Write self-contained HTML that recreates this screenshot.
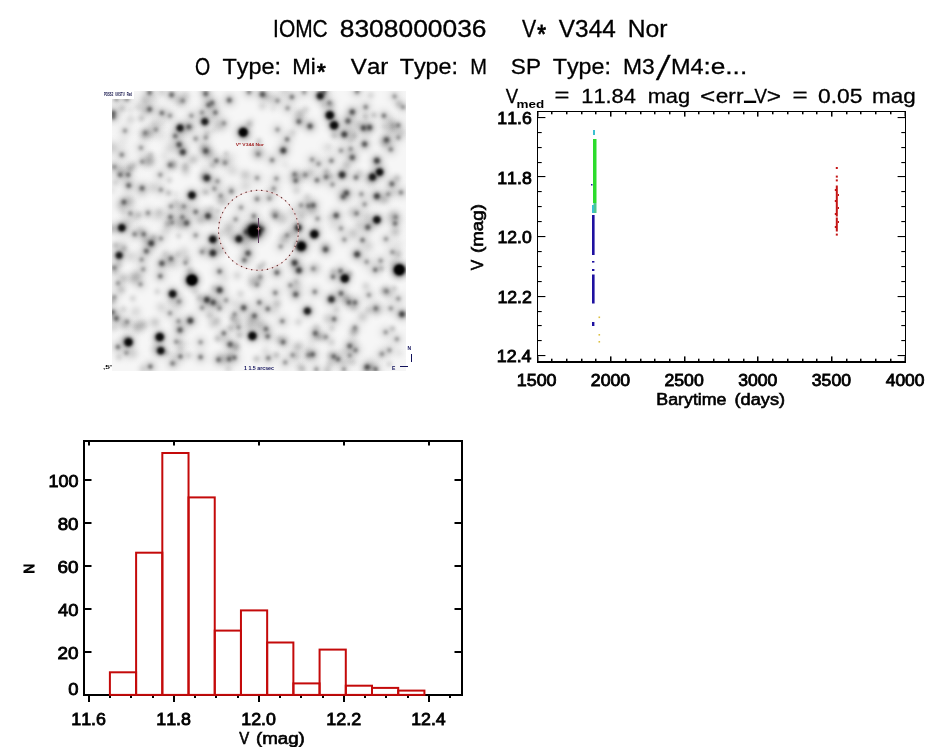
<!DOCTYPE html>
<html><head><meta charset="utf-8"><title>IOMC 8308000036</title>
<style>html,body{margin:0;padding:0;background:#fff;}body{width:944px;height:747px;overflow:hidden;}svg{display:block;}</style>
</head><body>
<svg width="944" height="747" viewBox="0 0 944 747" font-family="'Liberation Sans', Arial, sans-serif" style="font-kerning:none">
<defs><radialGradient id="g30_150_23"><stop offset="0.000" stop-opacity="0.422"/><stop offset="0.062" stop-opacity="0.398"/><stop offset="0.125" stop-opacity="0.333"/><stop offset="0.188" stop-opacity="0.252"/><stop offset="0.250" stop-opacity="0.179"/><stop offset="0.312" stop-opacity="0.125"/><stop offset="0.375" stop-opacity="0.090"/><stop offset="0.438" stop-opacity="0.066"/><stop offset="0.500" stop-opacity="0.049"/><stop offset="0.562" stop-opacity="0.036"/><stop offset="0.625" stop-opacity="0.026"/><stop offset="0.688" stop-opacity="0.018"/><stop offset="0.750" stop-opacity="0.012"/><stop offset="0.812" stop-opacity="0.008"/><stop offset="0.875" stop-opacity="0.005"/><stop offset="0.938" stop-opacity="0.003"/><stop offset="1.000" stop-opacity="0.000"/></radialGradient><radialGradient id="g35_175_22"><stop offset="0.000" stop-opacity="0.482"/><stop offset="0.062" stop-opacity="0.457"/><stop offset="0.125" stop-opacity="0.390"/><stop offset="0.188" stop-opacity="0.302"/><stop offset="0.250" stop-opacity="0.218"/><stop offset="0.312" stop-opacity="0.153"/><stop offset="0.375" stop-opacity="0.109"/><stop offset="0.438" stop-opacity="0.079"/><stop offset="0.500" stop-opacity="0.058"/><stop offset="0.562" stop-opacity="0.042"/><stop offset="0.625" stop-opacity="0.030"/><stop offset="0.688" stop-opacity="0.021"/><stop offset="0.750" stop-opacity="0.014"/><stop offset="0.812" stop-opacity="0.009"/><stop offset="0.875" stop-opacity="0.006"/><stop offset="0.938" stop-opacity="0.003"/><stop offset="1.000" stop-opacity="0.000"/></radialGradient><radialGradient id="g20_100_23"><stop offset="0.000" stop-opacity="0.291"/><stop offset="0.062" stop-opacity="0.273"/><stop offset="0.125" stop-opacity="0.227"/><stop offset="0.188" stop-opacity="0.170"/><stop offset="0.250" stop-opacity="0.120"/><stop offset="0.312" stop-opacity="0.084"/><stop offset="0.375" stop-opacity="0.060"/><stop offset="0.438" stop-opacity="0.044"/><stop offset="0.500" stop-opacity="0.033"/><stop offset="0.562" stop-opacity="0.024"/><stop offset="0.625" stop-opacity="0.017"/><stop offset="0.688" stop-opacity="0.012"/><stop offset="0.750" stop-opacity="0.008"/><stop offset="0.812" stop-opacity="0.005"/><stop offset="0.875" stop-opacity="0.003"/><stop offset="0.938" stop-opacity="0.002"/><stop offset="1.000" stop-opacity="0.000"/></radialGradient><radialGradient id="g30_125_23"><stop offset="0.000" stop-opacity="0.401"/><stop offset="0.062" stop-opacity="0.377"/><stop offset="0.125" stop-opacity="0.313"/><stop offset="0.188" stop-opacity="0.232"/><stop offset="0.250" stop-opacity="0.161"/><stop offset="0.312" stop-opacity="0.109"/><stop offset="0.375" stop-opacity="0.077"/><stop offset="0.438" stop-opacity="0.056"/><stop offset="0.500" stop-opacity="0.041"/><stop offset="0.562" stop-opacity="0.030"/><stop offset="0.625" stop-opacity="0.022"/><stop offset="0.688" stop-opacity="0.015"/><stop offset="0.750" stop-opacity="0.010"/><stop offset="0.812" stop-opacity="0.006"/><stop offset="0.875" stop-opacity="0.004"/><stop offset="0.938" stop-opacity="0.002"/><stop offset="1.000" stop-opacity="0.000"/></radialGradient><radialGradient id="g110_250_19"><stop offset="0.000" stop-opacity="0.874"/><stop offset="0.062" stop-opacity="0.856"/><stop offset="0.125" stop-opacity="0.796"/><stop offset="0.188" stop-opacity="0.683"/><stop offset="0.250" stop-opacity="0.528"/><stop offset="0.312" stop-opacity="0.368"/><stop offset="0.375" stop-opacity="0.240"/><stop offset="0.438" stop-opacity="0.154"/><stop offset="0.500" stop-opacity="0.100"/><stop offset="0.562" stop-opacity="0.067"/><stop offset="0.625" stop-opacity="0.045"/><stop offset="0.688" stop-opacity="0.030"/><stop offset="0.750" stop-opacity="0.020"/><stop offset="0.812" stop-opacity="0.013"/><stop offset="0.875" stop-opacity="0.008"/><stop offset="0.938" stop-opacity="0.005"/><stop offset="1.000" stop-opacity="0.000"/></radialGradient><radialGradient id="g45_200_21"><stop offset="0.000" stop-opacity="0.572"/><stop offset="0.062" stop-opacity="0.546"/><stop offset="0.125" stop-opacity="0.475"/><stop offset="0.188" stop-opacity="0.375"/><stop offset="0.250" stop-opacity="0.274"/><stop offset="0.312" stop-opacity="0.191"/><stop offset="0.375" stop-opacity="0.133"/><stop offset="0.438" stop-opacity="0.094"/><stop offset="0.500" stop-opacity="0.068"/><stop offset="0.562" stop-opacity="0.049"/><stop offset="0.625" stop-opacity="0.035"/><stop offset="0.688" stop-opacity="0.024"/><stop offset="0.750" stop-opacity="0.016"/><stop offset="0.812" stop-opacity="0.010"/><stop offset="0.875" stop-opacity="0.006"/><stop offset="0.938" stop-opacity="0.004"/><stop offset="1.000" stop-opacity="0.000"/></radialGradient><radialGradient id="g60_225_20"><stop offset="0.000" stop-opacity="0.678"/><stop offset="0.062" stop-opacity="0.653"/><stop offset="0.125" stop-opacity="0.580"/><stop offset="0.188" stop-opacity="0.471"/><stop offset="0.250" stop-opacity="0.349"/><stop offset="0.312" stop-opacity="0.243"/><stop offset="0.375" stop-opacity="0.166"/><stop offset="0.438" stop-opacity="0.114"/><stop offset="0.500" stop-opacity="0.080"/><stop offset="0.562" stop-opacity="0.056"/><stop offset="0.625" stop-opacity="0.039"/><stop offset="0.688" stop-opacity="0.027"/><stop offset="0.750" stop-opacity="0.018"/><stop offset="0.812" stop-opacity="0.012"/><stop offset="0.875" stop-opacity="0.007"/><stop offset="0.938" stop-opacity="0.004"/><stop offset="1.000" stop-opacity="0.000"/></radialGradient><radialGradient id="g40_200_21"><stop offset="0.000" stop-opacity="0.537"/><stop offset="0.062" stop-opacity="0.513"/><stop offset="0.125" stop-opacity="0.446"/><stop offset="0.188" stop-opacity="0.354"/><stop offset="0.250" stop-opacity="0.261"/><stop offset="0.312" stop-opacity="0.184"/><stop offset="0.375" stop-opacity="0.130"/><stop offset="0.438" stop-opacity="0.093"/><stop offset="0.500" stop-opacity="0.068"/><stop offset="0.562" stop-opacity="0.049"/><stop offset="0.625" stop-opacity="0.035"/><stop offset="0.688" stop-opacity="0.024"/><stop offset="0.750" stop-opacity="0.016"/><stop offset="0.812" stop-opacity="0.010"/><stop offset="0.875" stop-opacity="0.006"/><stop offset="0.938" stop-opacity="0.004"/><stop offset="1.000" stop-opacity="0.000"/></radialGradient><radialGradient id="g25_125_23"><stop offset="0.000" stop-opacity="0.358"/><stop offset="0.062" stop-opacity="0.337"/><stop offset="0.125" stop-opacity="0.281"/><stop offset="0.188" stop-opacity="0.212"/><stop offset="0.250" stop-opacity="0.150"/><stop offset="0.312" stop-opacity="0.105"/><stop offset="0.375" stop-opacity="0.075"/><stop offset="0.438" stop-opacity="0.055"/><stop offset="0.500" stop-opacity="0.041"/><stop offset="0.562" stop-opacity="0.030"/><stop offset="0.625" stop-opacity="0.022"/><stop offset="0.688" stop-opacity="0.015"/><stop offset="0.750" stop-opacity="0.010"/><stop offset="0.812" stop-opacity="0.006"/><stop offset="0.875" stop-opacity="0.004"/><stop offset="0.938" stop-opacity="0.002"/><stop offset="1.000" stop-opacity="0.000"/></radialGradient><radialGradient id="g170_275_18"><stop offset="0.000" stop-opacity="0.962"/><stop offset="0.062" stop-opacity="0.954"/><stop offset="0.125" stop-opacity="0.923"/><stop offset="0.188" stop-opacity="0.849"/><stop offset="0.250" stop-opacity="0.712"/><stop offset="0.312" stop-opacity="0.527"/><stop offset="0.375" stop-opacity="0.349"/><stop offset="0.438" stop-opacity="0.217"/><stop offset="0.500" stop-opacity="0.133"/><stop offset="0.562" stop-opacity="0.083"/><stop offset="0.625" stop-opacity="0.053"/><stop offset="0.688" stop-opacity="0.034"/><stop offset="0.750" stop-opacity="0.022"/><stop offset="0.812" stop-opacity="0.014"/><stop offset="0.875" stop-opacity="0.009"/><stop offset="0.938" stop-opacity="0.005"/><stop offset="1.000" stop-opacity="0.000"/></radialGradient><radialGradient id="g80_250_19"><stop offset="0.000" stop-opacity="0.782"/><stop offset="0.062" stop-opacity="0.760"/><stop offset="0.125" stop-opacity="0.693"/><stop offset="0.188" stop-opacity="0.582"/><stop offset="0.250" stop-opacity="0.445"/><stop offset="0.312" stop-opacity="0.314"/><stop offset="0.375" stop-opacity="0.211"/><stop offset="0.438" stop-opacity="0.140"/><stop offset="0.500" stop-opacity="0.095"/><stop offset="0.562" stop-opacity="0.065"/><stop offset="0.625" stop-opacity="0.044"/><stop offset="0.688" stop-opacity="0.030"/><stop offset="0.750" stop-opacity="0.020"/><stop offset="0.812" stop-opacity="0.013"/><stop offset="0.875" stop-opacity="0.008"/><stop offset="0.938" stop-opacity="0.005"/><stop offset="1.000" stop-opacity="0.000"/></radialGradient><radialGradient id="g135_275_19"><stop offset="0.000" stop-opacity="0.925"/><stop offset="0.062" stop-opacity="0.912"/><stop offset="0.125" stop-opacity="0.863"/><stop offset="0.188" stop-opacity="0.760"/><stop offset="0.250" stop-opacity="0.602"/><stop offset="0.312" stop-opacity="0.425"/><stop offset="0.375" stop-opacity="0.276"/><stop offset="0.438" stop-opacity="0.175"/><stop offset="0.500" stop-opacity="0.112"/><stop offset="0.562" stop-opacity="0.074"/><stop offset="0.625" stop-opacity="0.050"/><stop offset="0.688" stop-opacity="0.033"/><stop offset="0.750" stop-opacity="0.022"/><stop offset="0.812" stop-opacity="0.014"/><stop offset="0.875" stop-opacity="0.009"/><stop offset="0.938" stop-opacity="0.005"/><stop offset="1.000" stop-opacity="0.000"/></radialGradient><radialGradient id="g200_300_18"><stop offset="0.000" stop-opacity="0.980"/><stop offset="0.062" stop-opacity="0.975"/><stop offset="0.125" stop-opacity="0.954"/><stop offset="0.188" stop-opacity="0.896"/><stop offset="0.250" stop-opacity="0.774"/><stop offset="0.312" stop-opacity="0.588"/><stop offset="0.375" stop-opacity="0.394"/><stop offset="0.438" stop-opacity="0.244"/><stop offset="0.500" stop-opacity="0.149"/><stop offset="0.562" stop-opacity="0.092"/><stop offset="0.625" stop-opacity="0.058"/><stop offset="0.688" stop-opacity="0.038"/><stop offset="0.750" stop-opacity="0.024"/><stop offset="0.812" stop-opacity="0.016"/><stop offset="0.875" stop-opacity="0.010"/><stop offset="0.938" stop-opacity="0.006"/><stop offset="1.000" stop-opacity="0.000"/></radialGradient><radialGradient id="g250_350_20"><stop offset="0.000" stop-opacity="0.993"/><stop offset="0.062" stop-opacity="0.991"/><stop offset="0.125" stop-opacity="0.976"/><stop offset="0.188" stop-opacity="0.926"/><stop offset="0.250" stop-opacity="0.792"/><stop offset="0.312" stop-opacity="0.576"/><stop offset="0.375" stop-opacity="0.367"/><stop offset="0.438" stop-opacity="0.224"/><stop offset="0.500" stop-opacity="0.140"/><stop offset="0.562" stop-opacity="0.092"/><stop offset="0.625" stop-opacity="0.062"/><stop offset="0.688" stop-opacity="0.042"/><stop offset="0.750" stop-opacity="0.028"/><stop offset="0.812" stop-opacity="0.018"/><stop offset="0.875" stop-opacity="0.011"/><stop offset="0.938" stop-opacity="0.007"/><stop offset="1.000" stop-opacity="0.000"/></radialGradient><radialGradient id="g280_450_18"><stop offset="0.000" stop-opacity="0.997"/><stop offset="0.062" stop-opacity="0.996"/><stop offset="0.125" stop-opacity="0.990"/><stop offset="0.188" stop-opacity="0.968"/><stop offset="0.250" stop-opacity="0.899"/><stop offset="0.312" stop-opacity="0.746"/><stop offset="0.375" stop-opacity="0.537"/><stop offset="0.438" stop-opacity="0.347"/><stop offset="0.500" stop-opacity="0.216"/><stop offset="0.562" stop-opacity="0.135"/><stop offset="0.625" stop-opacity="0.087"/><stop offset="0.688" stop-opacity="0.056"/><stop offset="0.750" stop-opacity="0.037"/><stop offset="0.812" stop-opacity="0.023"/><stop offset="0.875" stop-opacity="0.014"/><stop offset="0.938" stop-opacity="0.009"/><stop offset="1.000" stop-opacity="0.000"/></radialGradient><radialGradient id="g250_350_18"><stop offset="0.000" stop-opacity="0.993"/><stop offset="0.062" stop-opacity="0.991"/><stop offset="0.125" stop-opacity="0.981"/><stop offset="0.188" stop-opacity="0.946"/><stop offset="0.250" stop-opacity="0.854"/><stop offset="0.312" stop-opacity="0.679"/><stop offset="0.375" stop-opacity="0.468"/><stop offset="0.438" stop-opacity="0.293"/><stop offset="0.500" stop-opacity="0.177"/><stop offset="0.562" stop-opacity="0.109"/><stop offset="0.625" stop-opacity="0.069"/><stop offset="0.688" stop-opacity="0.044"/><stop offset="0.750" stop-opacity="0.029"/><stop offset="0.812" stop-opacity="0.018"/><stop offset="0.875" stop-opacity="0.011"/><stop offset="0.938" stop-opacity="0.007"/><stop offset="1.000" stop-opacity="0.000"/></radialGradient><radialGradient id="g220_400_19"><stop offset="0.000" stop-opacity="0.989"/><stop offset="0.062" stop-opacity="0.985"/><stop offset="0.125" stop-opacity="0.969"/><stop offset="0.188" stop-opacity="0.919"/><stop offset="0.250" stop-opacity="0.800"/><stop offset="0.312" stop-opacity="0.609"/><stop offset="0.375" stop-opacity="0.411"/><stop offset="0.438" stop-opacity="0.261"/><stop offset="0.500" stop-opacity="0.166"/><stop offset="0.562" stop-opacity="0.109"/><stop offset="0.625" stop-opacity="0.073"/><stop offset="0.688" stop-opacity="0.049"/><stop offset="0.750" stop-opacity="0.032"/><stop offset="0.812" stop-opacity="0.021"/><stop offset="0.875" stop-opacity="0.013"/><stop offset="0.938" stop-opacity="0.008"/><stop offset="1.000" stop-opacity="0.000"/></radialGradient><radialGradient id="g10_0_10"><stop offset="0.000" stop-opacity="0.100"/><stop offset="0.062" stop-opacity="0.098"/><stop offset="0.125" stop-opacity="0.093"/><stop offset="0.188" stop-opacity="0.085"/><stop offset="0.250" stop-opacity="0.075"/><stop offset="0.312" stop-opacity="0.064"/><stop offset="0.375" stop-opacity="0.053"/><stop offset="0.438" stop-opacity="0.042"/><stop offset="0.500" stop-opacity="0.032"/><stop offset="0.562" stop-opacity="0.024"/><stop offset="0.625" stop-opacity="0.017"/><stop offset="0.688" stop-opacity="0.012"/><stop offset="0.750" stop-opacity="0.008"/><stop offset="0.812" stop-opacity="0.005"/><stop offset="0.875" stop-opacity="0.003"/><stop offset="0.938" stop-opacity="0.002"/><stop offset="1.000" stop-opacity="0.000"/></radialGradient><radialGradient id="g5_0_10"><stop offset="0.000" stop-opacity="0.050"/><stop offset="0.062" stop-opacity="0.049"/><stop offset="0.125" stop-opacity="0.047"/><stop offset="0.188" stop-opacity="0.043"/><stop offset="0.250" stop-opacity="0.038"/><stop offset="0.312" stop-opacity="0.032"/><stop offset="0.375" stop-opacity="0.027"/><stop offset="0.438" stop-opacity="0.021"/><stop offset="0.500" stop-opacity="0.016"/><stop offset="0.562" stop-opacity="0.012"/><stop offset="0.625" stop-opacity="0.009"/><stop offset="0.688" stop-opacity="0.006"/><stop offset="0.750" stop-opacity="0.004"/><stop offset="0.812" stop-opacity="0.003"/><stop offset="0.875" stop-opacity="0.002"/><stop offset="0.938" stop-opacity="0.001"/><stop offset="1.000" stop-opacity="0.000"/></radialGradient><radialGradient id="g15_0_10"><stop offset="0.000" stop-opacity="0.149"/><stop offset="0.062" stop-opacity="0.146"/><stop offset="0.125" stop-opacity="0.139"/><stop offset="0.188" stop-opacity="0.127"/><stop offset="0.250" stop-opacity="0.113"/><stop offset="0.312" stop-opacity="0.096"/><stop offset="0.375" stop-opacity="0.079"/><stop offset="0.438" stop-opacity="0.063"/><stop offset="0.500" stop-opacity="0.049"/><stop offset="0.562" stop-opacity="0.036"/><stop offset="0.625" stop-opacity="0.026"/><stop offset="0.688" stop-opacity="0.018"/><stop offset="0.750" stop-opacity="0.012"/><stop offset="0.812" stop-opacity="0.008"/><stop offset="0.875" stop-opacity="0.005"/><stop offset="0.938" stop-opacity="0.003"/><stop offset="1.000" stop-opacity="0.000"/></radialGradient><clipPath id="imgclip"><rect x="112" y="91" width="294" height="280"/></clipPath></defs>
<rect width="944" height="747" fill="#fff"/>
<g clip-path="url(#imgclip)"><rect x="112" y="91" width="294" height="280" fill="#f6f6f6"/>
<circle cx="207.2" cy="133.2" r="7.9" fill="url(#g10_0_10)"/>
<circle cx="269.5" cy="193.4" r="10.5" fill="url(#g5_0_10)"/>
<circle cx="123.0" cy="212.4" r="8.0" fill="url(#g5_0_10)"/>
<circle cx="236.8" cy="322.5" r="8.8" fill="url(#g5_0_10)"/>
<circle cx="296.5" cy="356.4" r="9.9" fill="url(#g10_0_10)"/>
<circle cx="399.0" cy="104.0" r="9.2" fill="url(#g15_0_10)"/>
<circle cx="154.4" cy="124.0" r="12.4" fill="url(#g10_0_10)"/>
<circle cx="165.1" cy="253.8" r="9.7" fill="url(#g10_0_10)"/>
<circle cx="273.0" cy="108.6" r="8.7" fill="url(#g5_0_10)"/>
<circle cx="312.0" cy="210.7" r="11.0" fill="url(#g10_0_10)"/>
<circle cx="245.2" cy="174.9" r="11.7" fill="url(#g15_0_10)"/>
<circle cx="183.8" cy="251.8" r="12.8" fill="url(#g10_0_10)"/>
<circle cx="326.5" cy="171.6" r="8.2" fill="url(#g15_0_10)"/>
<circle cx="234.9" cy="303.0" r="10.4" fill="url(#g5_0_10)"/>
<circle cx="123.5" cy="278.1" r="10.9" fill="url(#g15_0_10)"/>
<circle cx="369.4" cy="178.8" r="11.1" fill="url(#g10_0_10)"/>
<circle cx="282.5" cy="218.7" r="13.2" fill="url(#g15_0_10)"/>
<circle cx="251.4" cy="277.0" r="11.7" fill="url(#g5_0_10)"/>
<circle cx="302.3" cy="369.1" r="9.2" fill="url(#g15_0_10)"/>
<circle cx="225.4" cy="278.2" r="10.3" fill="url(#g5_0_10)"/>
<circle cx="161.4" cy="123.8" r="12.1" fill="url(#g5_0_10)"/>
<circle cx="150.0" cy="160.3" r="12.7" fill="url(#g10_0_10)"/>
<circle cx="135.7" cy="216.8" r="12.8" fill="url(#g10_0_10)"/>
<circle cx="352.9" cy="332.9" r="10.0" fill="url(#g10_0_10)"/>
<circle cx="217.5" cy="338.6" r="8.4" fill="url(#g15_0_10)"/>
<circle cx="163.8" cy="155.9" r="10.4" fill="url(#g5_0_10)"/>
<circle cx="285.2" cy="164.6" r="10.0" fill="url(#g5_0_10)"/>
<circle cx="220.6" cy="249.6" r="11.6" fill="url(#g15_0_10)"/>
<circle cx="263.6" cy="263.9" r="7.8" fill="url(#g10_0_10)"/>
<circle cx="376.5" cy="309.4" r="12.3" fill="url(#g15_0_10)"/>
<circle cx="227.4" cy="202.7" r="11.3" fill="url(#g5_0_10)"/>
<circle cx="130.3" cy="109.9" r="8.5" fill="url(#g5_0_10)"/>
<circle cx="212.0" cy="105.7" r="8.4" fill="url(#g5_0_10)"/>
<circle cx="141.8" cy="192.8" r="12.7" fill="url(#g5_0_10)"/>
<circle cx="292.5" cy="132.6" r="9.6" fill="url(#g10_0_10)"/>
<circle cx="219.1" cy="125.4" r="13.5" fill="url(#g15_0_10)"/>
<circle cx="249.0" cy="226.5" r="8.1" fill="url(#g5_0_10)"/>
<circle cx="212.7" cy="165.1" r="8.5" fill="url(#g15_0_10)"/>
<circle cx="118.8" cy="357.3" r="8.4" fill="url(#g10_0_10)"/>
<circle cx="271.7" cy="98.6" r="13.4" fill="url(#g10_0_10)"/>
<circle cx="365.8" cy="285.9" r="9.7" fill="url(#g10_0_10)"/>
<circle cx="161.1" cy="307.1" r="12.2" fill="url(#g10_0_10)"/>
<circle cx="208.9" cy="153.5" r="13.4" fill="url(#g15_0_10)"/>
<circle cx="362.7" cy="316.7" r="11.9" fill="url(#g15_0_10)"/>
<circle cx="178.7" cy="235.9" r="7.7" fill="url(#g10_0_10)"/>
<circle cx="120.2" cy="169.2" r="11.7" fill="url(#g10_0_10)"/>
<circle cx="393.2" cy="216.2" r="13.4" fill="url(#g15_0_10)"/>
<circle cx="392.8" cy="193.1" r="8.9" fill="url(#g5_0_10)"/>
<circle cx="169.8" cy="148.2" r="12.9" fill="url(#g10_0_10)"/>
<circle cx="359.1" cy="225.3" r="12.3" fill="url(#g10_0_10)"/>
<circle cx="136.9" cy="276.0" r="12.2" fill="url(#g15_0_10)"/>
<circle cx="332.5" cy="224.8" r="12.2" fill="url(#g5_0_10)"/>
<circle cx="209.8" cy="315.2" r="9.9" fill="url(#g15_0_10)"/>
<circle cx="230.0" cy="356.1" r="8.5" fill="url(#g10_0_10)"/>
<circle cx="149.3" cy="133.3" r="12.3" fill="url(#g15_0_10)"/>
<circle cx="155.0" cy="322.4" r="11.4" fill="url(#g15_0_10)"/>
<circle cx="215.0" cy="244.6" r="7.6" fill="url(#g5_0_10)"/>
<circle cx="397.4" cy="272.9" r="13.1" fill="url(#g10_0_10)"/>
<circle cx="239.5" cy="335.1" r="8.8" fill="url(#g15_0_10)"/>
<circle cx="186.0" cy="173.0" r="11.0" fill="url(#g5_0_10)"/>
<circle cx="188.3" cy="208.3" r="13.0" fill="url(#g5_0_10)"/>
<circle cx="216.0" cy="219.3" r="12.9" fill="url(#g10_0_10)"/>
<circle cx="235.7" cy="348.0" r="10.7" fill="url(#g10_0_10)"/>
<circle cx="265.9" cy="96.2" r="8.6" fill="url(#g10_0_10)"/>
<circle cx="113.2" cy="314.8" r="10.3" fill="url(#g5_0_10)"/>
<circle cx="325.2" cy="246.8" r="10.6" fill="url(#g10_0_10)"/>
<circle cx="275.3" cy="310.6" r="10.9" fill="url(#g5_0_10)"/>
<circle cx="185.1" cy="168.5" r="10.5" fill="url(#g15_0_10)"/>
<circle cx="277.1" cy="303.8" r="10.2" fill="url(#g15_0_10)"/>
<circle cx="292.1" cy="232.6" r="11.7" fill="url(#g10_0_10)"/>
<circle cx="245.0" cy="240.3" r="13.1" fill="url(#g10_0_10)"/>
<circle cx="317.6" cy="336.4" r="9.1" fill="url(#g15_0_10)"/>
<circle cx="276.5" cy="355.1" r="8.3" fill="url(#g15_0_10)"/>
<circle cx="147.8" cy="214.8" r="8.9" fill="url(#g5_0_10)"/>
<circle cx="133.5" cy="278.5" r="12.9" fill="url(#g15_0_10)"/>
<circle cx="157.4" cy="291.5" r="8.4" fill="url(#g10_0_10)"/>
<circle cx="371.6" cy="361.9" r="13.2" fill="url(#g5_0_10)"/>
<circle cx="229.1" cy="227.4" r="12.5" fill="url(#g15_0_10)"/>
<circle cx="159.5" cy="211.8" r="9.5" fill="url(#g10_0_10)"/>
<circle cx="169.5" cy="180.2" r="7.6" fill="url(#g10_0_10)"/>
<circle cx="274.9" cy="214.3" r="9.5" fill="url(#g5_0_10)"/>
<circle cx="295.4" cy="234.4" r="13.4" fill="url(#g5_0_10)"/>
<circle cx="343.8" cy="363.1" r="9.1" fill="url(#g5_0_10)"/>
<circle cx="123.6" cy="309.1" r="8.3" fill="url(#g10_0_10)"/>
<circle cx="236.1" cy="346.2" r="9.1" fill="url(#g15_0_10)"/>
<circle cx="155.9" cy="348.4" r="11.7" fill="url(#g10_0_10)"/>
<circle cx="138.3" cy="107.1" r="10.1" fill="url(#g10_0_10)"/>
<circle cx="133.3" cy="353.7" r="12.3" fill="url(#g10_0_10)"/>
<circle cx="136.6" cy="330.7" r="12.7" fill="url(#g5_0_10)"/>
<circle cx="245.4" cy="186.0" r="13.1" fill="url(#g10_0_10)"/>
<circle cx="190.8" cy="127.2" r="8.9" fill="url(#g10_0_10)"/>
<circle cx="144.2" cy="136.2" r="8.7" fill="url(#g5_0_10)"/>
<circle cx="203.7" cy="176.4" r="9.2" fill="url(#g15_0_10)"/>
<circle cx="259.0" cy="140.8" r="7.6" fill="url(#g10_0_10)"/>
<circle cx="185.6" cy="95.3" r="10.8" fill="url(#g10_0_10)"/>
<circle cx="167.7" cy="223.9" r="8.1" fill="url(#g15_0_10)"/>
<circle cx="352.8" cy="212.0" r="12.5" fill="url(#g10_0_10)"/>
<circle cx="227.6" cy="232.9" r="13.4" fill="url(#g10_0_10)"/>
<circle cx="212.8" cy="324.0" r="11.3" fill="url(#g10_0_10)"/>
<circle cx="231.0" cy="188.3" r="8.3" fill="url(#g5_0_10)"/>
<circle cx="132.8" cy="298.4" r="8.5" fill="url(#g10_0_10)"/>
<circle cx="136.8" cy="326.6" r="11.5" fill="url(#g15_0_10)"/>
<circle cx="194.9" cy="158.8" r="10.3" fill="url(#g10_0_10)"/>
<circle cx="158.3" cy="215.8" r="13.3" fill="url(#g10_0_10)"/>
<circle cx="398.0" cy="244.2" r="13.3" fill="url(#g5_0_10)"/>
<circle cx="203.0" cy="190.8" r="9.8" fill="url(#g5_0_10)"/>
<circle cx="251.5" cy="231.8" r="10.5" fill="url(#g5_0_10)"/>
<circle cx="113.5" cy="165.0" r="9.9" fill="url(#g5_0_10)"/>
<circle cx="124.3" cy="97.3" r="8.9" fill="url(#g10_0_10)"/>
<circle cx="284.2" cy="239.2" r="11.4" fill="url(#g15_0_10)"/>
<circle cx="322.5" cy="337.1" r="9.5" fill="url(#g10_0_10)"/>
<circle cx="401.5" cy="132.8" r="11.4" fill="url(#g10_0_10)"/>
<circle cx="124.9" cy="324.9" r="11.3" fill="url(#g15_0_10)"/>
<circle cx="327.8" cy="318.4" r="10.6" fill="url(#g5_0_10)"/>
<circle cx="260.3" cy="324.8" r="12.5" fill="url(#g15_0_10)"/>
<circle cx="283.7" cy="341.0" r="11.7" fill="url(#g10_0_10)"/>
<circle cx="179.6" cy="99.7" r="9.7" fill="url(#g5_0_10)"/>
<circle cx="142.8" cy="325.0" r="11.3" fill="url(#g10_0_10)"/>
<circle cx="296.1" cy="281.6" r="7.5" fill="url(#g10_0_10)"/>
<circle cx="346.5" cy="300.5" r="10.7" fill="url(#g10_0_10)"/>
<circle cx="305.8" cy="109.5" r="9.0" fill="url(#g10_0_10)"/>
<circle cx="133.9" cy="165.4" r="8.7" fill="url(#g10_0_10)"/>
<circle cx="329.5" cy="364.2" r="9.8" fill="url(#g10_0_10)"/>
<circle cx="252.8" cy="282.4" r="11.2" fill="url(#g15_0_10)"/>
<circle cx="301.0" cy="112.7" r="9.0" fill="url(#g5_0_10)"/>
<circle cx="330.5" cy="176.2" r="7.6" fill="url(#g10_0_10)"/>
<circle cx="129.8" cy="166.3" r="11.7" fill="url(#g10_0_10)"/>
<circle cx="310.7" cy="172.4" r="10.3" fill="url(#g10_0_10)"/>
<circle cx="249.1" cy="124.2" r="8.7" fill="url(#g15_0_10)"/>
<circle cx="399.6" cy="353.2" r="10.3" fill="url(#g5_0_10)"/>
<circle cx="353.0" cy="362.1" r="9.1" fill="url(#g10_0_10)"/>
<circle cx="173.7" cy="355.8" r="11.0" fill="url(#g5_0_10)"/>
<circle cx="153.7" cy="237.7" r="8.3" fill="url(#g15_0_10)"/>
<circle cx="353.1" cy="233.4" r="11.7" fill="url(#g15_0_10)"/>
<circle cx="180.0" cy="342.4" r="7.6" fill="url(#g10_0_10)"/>
<circle cx="113.1" cy="228.7" r="9.3" fill="url(#g10_0_10)"/>
<circle cx="153.4" cy="187.3" r="12.5" fill="url(#g10_0_10)"/>
<circle cx="112.5" cy="301.2" r="8.2" fill="url(#g15_0_10)"/>
<circle cx="384.4" cy="290.6" r="9.2" fill="url(#g15_0_10)"/>
<circle cx="221.4" cy="201.0" r="11.0" fill="url(#g15_0_10)"/>
<circle cx="218.0" cy="210.9" r="7.8" fill="url(#g10_0_10)"/>
<circle cx="141.9" cy="324.7" r="13.1" fill="url(#g10_0_10)"/>
<circle cx="185.3" cy="165.4" r="8.6" fill="url(#g10_0_10)"/>
<circle cx="221.8" cy="358.7" r="12.4" fill="url(#g15_0_10)"/>
<circle cx="297.5" cy="346.8" r="10.8" fill="url(#g15_0_10)"/>
<circle cx="323.6" cy="104.9" r="10.2" fill="url(#g10_0_10)"/>
<circle cx="333.3" cy="271.5" r="7.8" fill="url(#g10_0_10)"/>
<circle cx="384.5" cy="126.6" r="9.6" fill="url(#g10_0_10)"/>
<circle cx="199.5" cy="297.9" r="9.1" fill="url(#g15_0_10)"/>
<circle cx="304.9" cy="175.2" r="9.9" fill="url(#g10_0_10)"/>
<circle cx="161.2" cy="136.3" r="12.9" fill="url(#g5_0_10)"/>
<circle cx="258.1" cy="152.6" r="13.5" fill="url(#g15_0_10)"/>
<circle cx="244.3" cy="130.1" r="8.0" fill="url(#g5_0_10)"/>
<circle cx="212.5" cy="116.5" r="9.1" fill="url(#g5_0_10)"/>
<circle cx="279.5" cy="339.4" r="10.0" fill="url(#g10_0_10)"/>
<circle cx="233.7" cy="237.8" r="9.5" fill="url(#g10_0_10)"/>
<circle cx="130.2" cy="168.7" r="8.3" fill="url(#g15_0_10)"/>
<circle cx="260.0" cy="267.3" r="8.8" fill="url(#g15_0_10)"/>
<circle cx="191.7" cy="160.6" r="10.2" fill="url(#g10_0_10)"/>
<circle cx="392.5" cy="328.6" r="7.6" fill="url(#g15_0_10)"/>
<circle cx="121.5" cy="289.7" r="10.3" fill="url(#g15_0_10)"/>
<circle cx="284.6" cy="91.1" r="13.1" fill="url(#g10_0_10)"/>
<circle cx="354.7" cy="330.5" r="9.0" fill="url(#g15_0_10)"/>
<circle cx="144.1" cy="134.2" r="11.6" fill="url(#g10_0_10)"/>
<circle cx="388.8" cy="293.1" r="12.1" fill="url(#g10_0_10)"/>
<circle cx="246.5" cy="245.4" r="12.2" fill="url(#g5_0_10)"/>
<circle cx="180.4" cy="348.6" r="9.3" fill="url(#g10_0_10)"/>
<circle cx="149.6" cy="161.5" r="11.7" fill="url(#g10_0_10)"/>
<circle cx="145.0" cy="110.7" r="11.0" fill="url(#g10_0_10)"/>
<circle cx="226.1" cy="153.6" r="7.6" fill="url(#g10_0_10)"/>
<circle cx="200.6" cy="220.0" r="11.4" fill="url(#g15_0_10)"/>
<circle cx="371.8" cy="224.1" r="9.0" fill="url(#g5_0_10)"/>
<circle cx="394.4" cy="288.3" r="7.6" fill="url(#g10_0_10)"/>
<circle cx="258.5" cy="279.8" r="9.0" fill="url(#g10_0_10)"/>
<circle cx="308.2" cy="350.0" r="7.7" fill="url(#g5_0_10)"/>
<circle cx="211.4" cy="208.8" r="8.7" fill="url(#g10_0_10)"/>
<circle cx="346.3" cy="298.0" r="8.7" fill="url(#g10_0_10)"/>
<circle cx="397.1" cy="178.3" r="8.9" fill="url(#g15_0_10)"/>
<circle cx="177.1" cy="303.9" r="13.2" fill="url(#g10_0_10)"/>
<circle cx="257.8" cy="143.4" r="10.0" fill="url(#g5_0_10)"/>
<circle cx="307.6" cy="356.7" r="9.9" fill="url(#g5_0_10)"/>
<circle cx="174.6" cy="363.8" r="7.8" fill="url(#g5_0_10)"/>
<circle cx="129.7" cy="201.1" r="12.8" fill="url(#g15_0_10)"/>
<circle cx="327.4" cy="370.3" r="9.5" fill="url(#g15_0_10)"/>
<circle cx="166.5" cy="353.0" r="7.7" fill="url(#g10_0_10)"/>
<circle cx="307.3" cy="197.0" r="9.5" fill="url(#g10_0_10)"/>
<circle cx="161.8" cy="91.8" r="9.6" fill="url(#g10_0_10)"/>
<circle cx="392.9" cy="125.6" r="8.7" fill="url(#g15_0_10)"/>
<circle cx="216.8" cy="321.0" r="10.1" fill="url(#g15_0_10)"/>
<circle cx="126.5" cy="223.6" r="13.0" fill="url(#g10_0_10)"/>
<circle cx="168.7" cy="193.0" r="7.7" fill="url(#g15_0_10)"/>
<circle cx="232.8" cy="318.3" r="7.7" fill="url(#g15_0_10)"/>
<circle cx="122.2" cy="108.5" r="9.0" fill="url(#g15_0_10)"/>
<circle cx="331.7" cy="342.6" r="9.1" fill="url(#g10_0_10)"/>
<circle cx="393.6" cy="263.8" r="11.8" fill="url(#g10_0_10)"/>
<circle cx="205.0" cy="168.2" r="12.0" fill="url(#g5_0_10)"/>
<circle cx="381.4" cy="268.5" r="7.6" fill="url(#g15_0_10)"/>
<circle cx="180.8" cy="224.1" r="13.2" fill="url(#g15_0_10)"/>
<circle cx="225.6" cy="161.3" r="10.5" fill="url(#g10_0_10)"/>
<circle cx="384.9" cy="142.2" r="11.9" fill="url(#g15_0_10)"/>
<circle cx="353.9" cy="307.4" r="9.5" fill="url(#g10_0_10)"/>
<circle cx="205.9" cy="192.3" r="8.0" fill="url(#g15_0_10)"/>
<circle cx="170.0" cy="301.8" r="7.9" fill="url(#g5_0_10)"/>
<circle cx="122.0" cy="245.7" r="13.4" fill="url(#g10_0_10)"/>
<circle cx="371.7" cy="367.6" r="8.0" fill="url(#g10_0_10)"/>
<circle cx="140.3" cy="230.6" r="10.2" fill="url(#g10_0_10)"/>
<circle cx="180.9" cy="207.7" r="11.5" fill="url(#g10_0_10)"/>
<circle cx="331.9" cy="328.2" r="8.2" fill="url(#g10_0_10)"/>
<circle cx="359.2" cy="173.3" r="9.7" fill="url(#g10_0_10)"/>
<circle cx="329.0" cy="146.8" r="9.0" fill="url(#g5_0_10)"/>
<circle cx="157.1" cy="338.6" r="9.5" fill="url(#g10_0_10)"/>
<circle cx="228.4" cy="368.9" r="8.9" fill="url(#g10_0_10)"/>
<circle cx="349.7" cy="273.9" r="8.1" fill="url(#g15_0_10)"/>
<circle cx="251.6" cy="320.3" r="13.0" fill="url(#g15_0_10)"/>
<circle cx="123.9" cy="173.2" r="8.6" fill="url(#g5_0_10)"/>
<circle cx="398.1" cy="254.3" r="9.7" fill="url(#g15_0_10)"/>
<circle cx="366.6" cy="216.8" r="12.2" fill="url(#g10_0_10)"/>
<circle cx="390.0" cy="120.6" r="11.2" fill="url(#g10_0_10)"/>
<circle cx="176.0" cy="194.2" r="8.7" fill="url(#g5_0_10)"/>
<circle cx="186.9" cy="258.8" r="8.7" fill="url(#g10_0_10)"/>
<circle cx="115.3" cy="182.6" r="8.6" fill="url(#g10_0_10)"/>
<circle cx="203.8" cy="148.0" r="10.8" fill="url(#g15_0_10)"/>
<circle cx="130.6" cy="119.4" r="10.8" fill="url(#g10_0_10)"/>
<circle cx="299.9" cy="116.5" r="11.7" fill="url(#g5_0_10)"/>
<circle cx="232.5" cy="170.3" r="13.2" fill="url(#g10_0_10)"/>
<circle cx="203.8" cy="249.6" r="10.0" fill="url(#g10_0_10)"/>
<circle cx="366.1" cy="370.1" r="8.7" fill="url(#g10_0_10)"/>
<circle cx="326.0" cy="148.0" r="12.9" fill="url(#g5_0_10)"/>
<circle cx="236.6" cy="320.7" r="12.8" fill="url(#g10_0_10)"/>
<circle cx="247.5" cy="136.5" r="10.8" fill="url(#g5_0_10)"/>
<circle cx="300.4" cy="345.7" r="11.2" fill="url(#g5_0_10)"/>
<circle cx="221.0" cy="232.2" r="9.2" fill="url(#g5_0_10)"/>
<circle cx="265.2" cy="350.1" r="10.4" fill="url(#g5_0_10)"/>
<circle cx="348.6" cy="361.7" r="8.3" fill="url(#g5_0_10)"/>
<circle cx="389.3" cy="364.2" r="7.8" fill="url(#g10_0_10)"/>
<circle cx="384.3" cy="199.6" r="11.2" fill="url(#g15_0_10)"/>
<circle cx="354.4" cy="135.9" r="8.8" fill="url(#g15_0_10)"/>
<circle cx="230.9" cy="328.0" r="8.6" fill="url(#g15_0_10)"/>
<circle cx="176.1" cy="202.9" r="9.8" fill="url(#g10_0_10)"/>
<circle cx="148.2" cy="160.2" r="12.9" fill="url(#g10_0_10)"/>
<circle cx="124.1" cy="248.5" r="7.7" fill="url(#g15_0_10)"/>
<circle cx="358.4" cy="124.0" r="10.8" fill="url(#g10_0_10)"/>
<circle cx="296.4" cy="176.7" r="11.0" fill="url(#g10_0_10)"/>
<circle cx="237.2" cy="275.5" r="10.1" fill="url(#g10_0_10)"/>
<circle cx="118.9" cy="264.3" r="8.9" fill="url(#g10_0_10)"/>
<circle cx="336.5" cy="309.4" r="8.6" fill="url(#g10_0_10)"/>
<circle cx="251.1" cy="121.0" r="10.1" fill="url(#g5_0_10)"/>
<circle cx="139.0" cy="214.8" r="7.7" fill="url(#g10_0_10)"/>
<circle cx="299.1" cy="114.0" r="12.2" fill="url(#g10_0_10)"/>
<circle cx="262.4" cy="106.2" r="9.8" fill="url(#g10_0_10)"/>
<circle cx="391.6" cy="129.1" r="13.5" fill="url(#g15_0_10)"/>
<circle cx="327.2" cy="319.2" r="13.4" fill="url(#g5_0_10)"/>
<circle cx="256.6" cy="358.9" r="8.5" fill="url(#g15_0_10)"/>
<circle cx="343.8" cy="351.6" r="9.6" fill="url(#g5_0_10)"/>
<circle cx="334.3" cy="135.5" r="9.1" fill="url(#g15_0_10)"/>
<circle cx="351.8" cy="131.2" r="13.0" fill="url(#g10_0_10)"/>
<circle cx="173.2" cy="164.6" r="9.4" fill="url(#g10_0_10)"/>
<circle cx="122.8" cy="142.0" r="13.1" fill="url(#g5_0_10)"/>
<circle cx="311.8" cy="341.7" r="12.2" fill="url(#g5_0_10)"/>
<circle cx="145.8" cy="239.6" r="9.7" fill="url(#g10_0_10)"/>
<circle cx="368.6" cy="246.5" r="12.8" fill="url(#g10_0_10)"/>
<circle cx="142.8" cy="369.0" r="9.9" fill="url(#g10_0_10)"/>
<circle cx="346.5" cy="165.1" r="11.0" fill="url(#g15_0_10)"/>
<circle cx="217.9" cy="305.1" r="8.6" fill="url(#g10_0_10)"/>
<circle cx="330.6" cy="104.5" r="9.0" fill="url(#g15_0_10)"/>
<circle cx="299.9" cy="366.5" r="11.5" fill="url(#g10_0_10)"/>
<circle cx="203.9" cy="91.5" r="8.4" fill="url(#g5_0_10)"/>
<circle cx="293.1" cy="212.0" r="12.9" fill="url(#g10_0_10)"/>
<circle cx="150.8" cy="154.6" r="7.6" fill="url(#g10_0_10)"/>
<circle cx="112.8" cy="190.4" r="9.6" fill="url(#g5_0_10)"/>
<circle cx="177.9" cy="254.4" r="8.7" fill="url(#g10_0_10)"/>
<circle cx="295.4" cy="224.0" r="13.1" fill="url(#g5_0_10)"/>
<circle cx="183.6" cy="132.8" r="11.3" fill="url(#g5_0_10)"/>
<circle cx="368.2" cy="310.0" r="9.1" fill="url(#g10_0_10)"/>
<circle cx="115.4" cy="271.6" r="9.6" fill="url(#g10_0_10)"/>
<circle cx="301.8" cy="215.3" r="11.9" fill="url(#g15_0_10)"/>
<circle cx="185.1" cy="344.0" r="10.7" fill="url(#g5_0_10)"/>
<circle cx="231.4" cy="157.5" r="12.2" fill="url(#g5_0_10)"/>
<circle cx="115.6" cy="245.3" r="8.4" fill="url(#g15_0_10)"/>
<circle cx="170.7" cy="261.3" r="11.3" fill="url(#g10_0_10)"/>
<circle cx="351.1" cy="139.9" r="9.3" fill="url(#g10_0_10)"/>
<circle cx="126.3" cy="340.0" r="11.8" fill="url(#g15_0_10)"/>
<circle cx="113.9" cy="327.4" r="10.3" fill="url(#g10_0_10)"/>
<circle cx="330.1" cy="217.7" r="8.1" fill="url(#g5_0_10)"/>
<circle cx="180.3" cy="101.9" r="12.0" fill="url(#g10_0_10)"/>
<circle cx="316.4" cy="327.7" r="9.1" fill="url(#g10_0_10)"/>
<circle cx="274.8" cy="213.1" r="10.6" fill="url(#g15_0_10)"/>
<circle cx="190.0" cy="270.8" r="8.8" fill="url(#g15_0_10)"/>
<circle cx="370.7" cy="95.3" r="8.9" fill="url(#g10_0_10)"/>
<circle cx="330.7" cy="355.5" r="9.5" fill="url(#g10_0_10)"/>
<circle cx="370.8" cy="183.0" r="12.9" fill="url(#g5_0_10)"/>
<circle cx="297.4" cy="285.0" r="13.4" fill="url(#g10_0_10)"/>
<circle cx="250.0" cy="326.1" r="12.6" fill="url(#g10_0_10)"/>
<circle cx="240.5" cy="293.9" r="9.3" fill="url(#g10_0_10)"/>
<circle cx="174.3" cy="265.3" r="13.0" fill="url(#g5_0_10)"/>
<circle cx="154.5" cy="98.5" r="13.1" fill="url(#g5_0_10)"/>
<circle cx="213.4" cy="130.7" r="7.7" fill="url(#g5_0_10)"/>
<circle cx="315.6" cy="268.5" r="11.9" fill="url(#g10_0_10)"/>
<circle cx="131.3" cy="256.3" r="12.4" fill="url(#g10_0_10)"/>
<circle cx="353.0" cy="340.6" r="12.7" fill="url(#g5_0_10)"/>
<circle cx="380.8" cy="355.4" r="8.7" fill="url(#g5_0_10)"/>
<circle cx="144.9" cy="100.6" r="12.4" fill="url(#g15_0_10)"/>
<circle cx="298.4" cy="322.0" r="9.2" fill="url(#g10_0_10)"/>
<circle cx="141.4" cy="118.4" r="8.7" fill="url(#g15_0_10)"/>
<circle cx="205.8" cy="209.7" r="9.0" fill="url(#g5_0_10)"/>
<circle cx="195.1" cy="291.4" r="9.4" fill="url(#g10_0_10)"/>
<circle cx="395.4" cy="232.0" r="11.2" fill="url(#g15_0_10)"/>
<circle cx="121.1" cy="206.6" r="12.1" fill="url(#g10_0_10)"/>
<circle cx="214.0" cy="288.3" r="8.8" fill="url(#g10_0_10)"/>
<circle cx="365.5" cy="116.4" r="8.5" fill="url(#g15_0_10)"/>
<circle cx="112.4" cy="147.6" r="13.4" fill="url(#g15_0_10)"/>
<circle cx="113.3" cy="228.4" r="12.3" fill="url(#g10_0_10)"/>
<circle cx="166.2" cy="229.5" r="12.5" fill="url(#g10_0_10)"/>
<circle cx="188.6" cy="355.3" r="8.8" fill="url(#g10_0_10)"/>
<circle cx="317.6" cy="230.5" r="11.3" fill="url(#g5_0_10)"/>
<circle cx="135.8" cy="311.6" r="12.2" fill="url(#g10_0_10)"/>
<circle cx="296.6" cy="190.6" r="9.9" fill="url(#g10_0_10)"/>
<circle cx="373.8" cy="115.1" r="7.7" fill="url(#g15_0_10)"/>
<circle cx="172.6" cy="164.7" r="10.5" fill="url(#g15_0_10)"/>
<circle cx="223.5" cy="338.5" r="10.3" fill="url(#g5_0_10)"/>
<circle cx="149.6" cy="92.7" r="13.80" fill="url(#g30_150_23)"/>
<circle cx="171.6" cy="94.8" r="13.80" fill="url(#g35_175_22)"/>
<circle cx="205.8" cy="93.7" r="13.80" fill="url(#g35_175_22)"/>
<circle cx="116.4" cy="99.1" r="13.80" fill="url(#g20_100_23)"/>
<circle cx="127.1" cy="99.1" r="13.80" fill="url(#g20_100_23)"/>
<circle cx="182.8" cy="100.7" r="13.80" fill="url(#g20_100_23)"/>
<circle cx="113.2" cy="113.0" r="13.80" fill="url(#g35_175_22)"/>
<circle cx="113.2" cy="117.0" r="13.80" fill="url(#g30_125_23)"/>
<circle cx="149.6" cy="109.3" r="13.80" fill="url(#g35_175_22)"/>
<circle cx="161.9" cy="113.0" r="13.80" fill="url(#g30_150_23)"/>
<circle cx="170.0" cy="115.7" r="13.80" fill="url(#g20_100_23)"/>
<circle cx="191.4" cy="115.7" r="13.80" fill="url(#g20_100_23)"/>
<circle cx="202.0" cy="112.5" r="13.80" fill="url(#g20_100_23)"/>
<circle cx="208.5" cy="105.0" r="13.80" fill="url(#g30_150_23)"/>
<circle cx="204.8" cy="121.6" r="13.80" fill="url(#g110_250_19)"/>
<circle cx="180.1" cy="128.0" r="13.80" fill="url(#g110_250_19)"/>
<circle cx="188.7" cy="126.9" r="13.80" fill="url(#g35_175_22)"/>
<circle cx="175.3" cy="136.0" r="13.80" fill="url(#g30_150_23)"/>
<circle cx="179.1" cy="144.6" r="13.80" fill="url(#g45_200_21)"/>
<circle cx="182.8" cy="152.1" r="13.80" fill="url(#g60_225_20)"/>
<circle cx="205.8" cy="151.0" r="13.80" fill="url(#g40_200_21)"/>
<circle cx="156.0" cy="129.6" r="13.80" fill="url(#g20_100_23)"/>
<circle cx="145.3" cy="132.8" r="13.80" fill="url(#g20_100_23)"/>
<circle cx="125.0" cy="130.7" r="13.80" fill="url(#g20_100_23)"/>
<circle cx="141.0" cy="147.8" r="13.80" fill="url(#g20_100_23)"/>
<circle cx="121.8" cy="154.8" r="13.80" fill="url(#g25_125_23)"/>
<circle cx="142.1" cy="161.7" r="13.80" fill="url(#g20_100_23)"/>
<circle cx="170.0" cy="165.0" r="13.80" fill="url(#g25_125_23)"/>
<circle cx="195.7" cy="138.7" r="13.80" fill="url(#g20_100_23)"/>
<circle cx="205.8" cy="137.6" r="13.80" fill="url(#g20_100_23)"/>
<circle cx="114.3" cy="167.0" r="13.80" fill="url(#g20_100_23)"/>
<circle cx="262.5" cy="94.3" r="13.80" fill="url(#g45_200_21)"/>
<circle cx="249.0" cy="92.1" r="13.80" fill="url(#g25_125_23)"/>
<circle cx="229.3" cy="100.2" r="13.80" fill="url(#g35_175_22)"/>
<circle cx="212.1" cy="102.8" r="13.80" fill="url(#g30_125_23)"/>
<circle cx="215.4" cy="112.5" r="13.80" fill="url(#g30_150_23)"/>
<circle cx="223.9" cy="123.2" r="13.80" fill="url(#g20_100_23)"/>
<circle cx="277.5" cy="100.7" r="13.80" fill="url(#g20_100_23)"/>
<circle cx="291.9" cy="97.0" r="13.80" fill="url(#g30_125_23)"/>
<circle cx="287.6" cy="108.2" r="13.80" fill="url(#g20_100_23)"/>
<circle cx="298.9" cy="121.6" r="13.80" fill="url(#g35_175_22)"/>
<circle cx="310.0" cy="126.2" r="13.80" fill="url(#g45_200_21)"/>
<circle cx="277.5" cy="129.6" r="13.80" fill="url(#g20_100_23)"/>
<circle cx="287.1" cy="139.3" r="13.80" fill="url(#g30_125_23)"/>
<circle cx="283.3" cy="150.5" r="13.80" fill="url(#g60_225_20)"/>
<circle cx="258.2" cy="154.2" r="13.80" fill="url(#g20_100_23)"/>
<circle cx="272.1" cy="160.1" r="13.80" fill="url(#g25_125_23)"/>
<circle cx="216.4" cy="160.7" r="13.80" fill="url(#g30_125_23)"/>
<circle cx="225.0" cy="162.8" r="13.80" fill="url(#g20_100_23)"/>
<circle cx="304.2" cy="92.1" r="13.80" fill="url(#g20_100_23)"/>
<circle cx="320.2" cy="95.9" r="13.80" fill="url(#g110_250_19)"/>
<circle cx="323.9" cy="92.1" r="13.80" fill="url(#g30_150_23)"/>
<circle cx="357.1" cy="91.6" r="13.80" fill="url(#g25_125_23)"/>
<circle cx="329.8" cy="115.2" r="13.80" fill="url(#g170_275_18)"/>
<circle cx="334.1" cy="125.3" r="13.80" fill="url(#g170_275_18)"/>
<circle cx="352.3" cy="112.0" r="13.80" fill="url(#g45_200_21)"/>
<circle cx="348.0" cy="121.0" r="13.80" fill="url(#g40_200_21)"/>
<circle cx="344.3" cy="134.4" r="13.80" fill="url(#g60_225_20)"/>
<circle cx="329.3" cy="102.8" r="13.80" fill="url(#g20_100_23)"/>
<circle cx="365.7" cy="107.1" r="13.80" fill="url(#g25_125_23)"/>
<circle cx="363.5" cy="128.0" r="13.80" fill="url(#g45_200_21)"/>
<circle cx="369.5" cy="127.5" r="13.80" fill="url(#g45_200_21)"/>
<circle cx="364.6" cy="144.1" r="13.80" fill="url(#g45_200_21)"/>
<circle cx="383.9" cy="115.7" r="13.80" fill="url(#g30_125_23)"/>
<circle cx="394.6" cy="96.4" r="13.80" fill="url(#g20_100_23)"/>
<circle cx="403.1" cy="107.1" r="13.80" fill="url(#g20_100_23)"/>
<circle cx="398.3" cy="125.3" r="13.80" fill="url(#g25_125_23)"/>
<circle cx="386.6" cy="139.8" r="13.80" fill="url(#g40_200_21)"/>
<circle cx="398.3" cy="137.6" r="13.80" fill="url(#g20_100_23)"/>
<circle cx="390.8" cy="149.4" r="13.80" fill="url(#g25_125_23)"/>
<circle cx="352.3" cy="157.5" r="13.80" fill="url(#g40_200_21)"/>
<circle cx="350.7" cy="148.9" r="13.80" fill="url(#g20_100_23)"/>
<circle cx="331.4" cy="160.7" r="13.80" fill="url(#g25_125_23)"/>
<circle cx="318.6" cy="163.9" r="13.80" fill="url(#g20_100_23)"/>
<circle cx="312.1" cy="159.6" r="13.80" fill="url(#g20_100_23)"/>
<circle cx="376.9" cy="160.7" r="13.80" fill="url(#g60_225_20)"/>
<circle cx="341.0" cy="150.5" r="13.80" fill="url(#g20_100_23)"/>
<circle cx="120.2" cy="174.8" r="13.80" fill="url(#g30_150_23)"/>
<circle cx="128.2" cy="174.8" r="13.80" fill="url(#g30_125_23)"/>
<circle cx="160.3" cy="174.8" r="13.80" fill="url(#g20_100_23)"/>
<circle cx="206.9" cy="178.0" r="13.80" fill="url(#g80_250_19)"/>
<circle cx="128.7" cy="185.5" r="13.80" fill="url(#g35_175_22)"/>
<circle cx="142.1" cy="188.2" r="13.80" fill="url(#g35_175_22)"/>
<circle cx="160.9" cy="189.8" r="13.80" fill="url(#g20_100_23)"/>
<circle cx="191.9" cy="195.2" r="13.80" fill="url(#g135_275_19)"/>
<circle cx="123.9" cy="202.1" r="13.80" fill="url(#g35_175_22)"/>
<circle cx="171.0" cy="206.4" r="13.80" fill="url(#g20_100_23)"/>
<circle cx="183.9" cy="206.4" r="13.80" fill="url(#g20_100_23)"/>
<circle cx="195.7" cy="211.8" r="13.80" fill="url(#g30_150_23)"/>
<circle cx="208.0" cy="216.0" r="13.80" fill="url(#g60_225_20)"/>
<circle cx="170.5" cy="217.1" r="13.80" fill="url(#g30_150_23)"/>
<circle cx="182.3" cy="217.1" r="13.80" fill="url(#g25_125_23)"/>
<circle cx="186.6" cy="223.0" r="13.80" fill="url(#g40_200_21)"/>
<circle cx="121.8" cy="227.8" r="13.80" fill="url(#g135_275_19)"/>
<circle cx="134.6" cy="234.2" r="13.80" fill="url(#g25_125_23)"/>
<circle cx="143.7" cy="234.2" r="13.80" fill="url(#g30_150_23)"/>
<circle cx="151.2" cy="243.3" r="13.80" fill="url(#g60_225_20)"/>
<circle cx="160.9" cy="238.5" r="13.80" fill="url(#g20_100_23)"/>
<circle cx="195.7" cy="235.3" r="13.80" fill="url(#g20_100_23)"/>
<circle cx="212.9" cy="239.3" r="13.80" fill="url(#g135_275_19)"/>
<circle cx="130.3" cy="213.4" r="13.80" fill="url(#g20_100_23)"/>
<circle cx="148.0" cy="212.8" r="13.80" fill="url(#g20_100_23)"/>
<circle cx="172.1" cy="222.5" r="13.80" fill="url(#g20_100_23)"/>
<circle cx="253.9" cy="230.0" r="13.80" fill="url(#g200_300_18)"/>
<circle cx="238.9" cy="239.0" r="13.80" fill="url(#g110_250_19)"/>
<circle cx="298.3" cy="227.8" r="13.80" fill="url(#g80_250_19)"/>
<circle cx="253.9" cy="216.0" r="13.80" fill="url(#g25_125_23)"/>
<circle cx="235.7" cy="219.3" r="13.80" fill="url(#g20_100_23)"/>
<circle cx="257.1" cy="198.9" r="13.80" fill="url(#g25_125_23)"/>
<circle cx="275.3" cy="216.0" r="13.80" fill="url(#g25_125_23)"/>
<circle cx="241.0" cy="207.5" r="13.80" fill="url(#g20_100_23)"/>
<circle cx="231.4" cy="191.4" r="13.80" fill="url(#g25_125_23)"/>
<circle cx="220.7" cy="195.7" r="13.80" fill="url(#g20_100_23)"/>
<circle cx="214.3" cy="188.7" r="13.80" fill="url(#g20_100_23)"/>
<circle cx="217.5" cy="181.2" r="13.80" fill="url(#g20_100_23)"/>
<circle cx="257.1" cy="178.0" r="13.80" fill="url(#g20_100_23)"/>
<circle cx="276.4" cy="178.6" r="13.80" fill="url(#g20_100_23)"/>
<circle cx="295.7" cy="180.7" r="13.80" fill="url(#g30_150_23)"/>
<circle cx="294.6" cy="174.3" r="13.80" fill="url(#g25_125_23)"/>
<circle cx="305.3" cy="174.8" r="13.80" fill="url(#g20_100_23)"/>
<circle cx="273.7" cy="188.7" r="13.80" fill="url(#g20_100_23)"/>
<circle cx="269.4" cy="198.4" r="13.80" fill="url(#g20_100_23)"/>
<circle cx="301.0" cy="205.3" r="13.80" fill="url(#g20_100_23)"/>
<circle cx="308.5" cy="205.9" r="13.80" fill="url(#g25_125_23)"/>
<circle cx="287.1" cy="235.3" r="13.80" fill="url(#g20_100_23)"/>
<circle cx="280.7" cy="246.6" r="13.80" fill="url(#g20_100_23)"/>
<circle cx="246.0" cy="232.0" r="13.80" fill="url(#g35_175_22)"/>
<circle cx="262.0" cy="229.0" r="13.80" fill="url(#g30_150_23)"/>
<circle cx="342.1" cy="174.8" r="13.80" fill="url(#g80_250_19)"/>
<circle cx="326.1" cy="177.0" r="13.80" fill="url(#g30_150_23)"/>
<circle cx="317.0" cy="180.2" r="13.80" fill="url(#g30_125_23)"/>
<circle cx="356.0" cy="177.5" r="13.80" fill="url(#g30_125_23)"/>
<circle cx="379.6" cy="172.1" r="13.80" fill="url(#g135_275_19)"/>
<circle cx="372.6" cy="177.0" r="13.80" fill="url(#g110_250_19)"/>
<circle cx="391.9" cy="183.9" r="13.80" fill="url(#g35_175_22)"/>
<circle cx="332.5" cy="184.5" r="13.80" fill="url(#g20_100_23)"/>
<circle cx="346.4" cy="193.0" r="13.80" fill="url(#g45_200_21)"/>
<circle cx="343.2" cy="196.8" r="13.80" fill="url(#g35_175_22)"/>
<circle cx="361.4" cy="194.1" r="13.80" fill="url(#g20_100_23)"/>
<circle cx="376.9" cy="196.2" r="13.80" fill="url(#g60_225_20)"/>
<circle cx="388.2" cy="194.1" r="13.80" fill="url(#g20_100_23)"/>
<circle cx="401.0" cy="192.5" r="13.80" fill="url(#g25_125_23)"/>
<circle cx="313.2" cy="205.3" r="13.80" fill="url(#g35_175_22)"/>
<circle cx="364.6" cy="204.3" r="13.80" fill="url(#g20_100_23)"/>
<circle cx="336.2" cy="215.5" r="13.80" fill="url(#g45_200_21)"/>
<circle cx="356.6" cy="213.4" r="13.80" fill="url(#g25_125_23)"/>
<circle cx="376.9" cy="219.8" r="13.80" fill="url(#g135_275_19)"/>
<circle cx="367.8" cy="227.3" r="13.80" fill="url(#g40_200_21)"/>
<circle cx="395.1" cy="223.5" r="13.80" fill="url(#g30_125_23)"/>
<circle cx="395.7" cy="217.1" r="13.80" fill="url(#g20_100_23)"/>
<circle cx="317.5" cy="218.7" r="13.80" fill="url(#g20_100_23)"/>
<circle cx="314.3" cy="234.2" r="13.80" fill="url(#g170_275_18)"/>
<circle cx="325.6" cy="249.5" r="13.80" fill="url(#g45_200_21)"/>
<circle cx="344.3" cy="239.6" r="13.80" fill="url(#g20_100_23)"/>
<circle cx="362.5" cy="240.1" r="13.80" fill="url(#g30_125_23)"/>
<circle cx="341.0" cy="228.4" r="13.80" fill="url(#g20_100_23)"/>
<circle cx="386.0" cy="239.0" r="13.80" fill="url(#g20_100_23)"/>
<circle cx="119.1" cy="255.4" r="13.80" fill="url(#g110_250_19)"/>
<circle cx="146.4" cy="251.1" r="13.80" fill="url(#g35_175_22)"/>
<circle cx="161.9" cy="263.4" r="13.80" fill="url(#g45_200_21)"/>
<circle cx="171.0" cy="258.6" r="13.80" fill="url(#g30_150_23)"/>
<circle cx="185.5" cy="262.8" r="13.80" fill="url(#g20_100_23)"/>
<circle cx="141.6" cy="259.6" r="13.80" fill="url(#g20_100_23)"/>
<circle cx="114.3" cy="267.7" r="13.80" fill="url(#g25_125_23)"/>
<circle cx="143.2" cy="269.3" r="13.80" fill="url(#g20_100_23)"/>
<circle cx="160.3" cy="276.2" r="13.80" fill="url(#g30_150_23)"/>
<circle cx="191.9" cy="280.0" r="13.80" fill="url(#g200_300_18)"/>
<circle cx="140.5" cy="284.3" r="13.80" fill="url(#g20_100_23)"/>
<circle cx="118.0" cy="283.2" r="13.80" fill="url(#g20_100_23)"/>
<circle cx="172.6" cy="293.9" r="13.80" fill="url(#g135_275_19)"/>
<circle cx="179.1" cy="301.4" r="13.80" fill="url(#g20_100_23)"/>
<circle cx="206.9" cy="299.8" r="13.80" fill="url(#g60_225_20)"/>
<circle cx="202.1" cy="307.8" r="13.80" fill="url(#g20_100_23)"/>
<circle cx="114.3" cy="297.1" r="13.80" fill="url(#g20_100_23)"/>
<circle cx="116.4" cy="318.5" r="13.80" fill="url(#g35_175_22)"/>
<circle cx="112.7" cy="312.1" r="13.80" fill="url(#g30_150_23)"/>
<circle cx="127.1" cy="321.7" r="13.80" fill="url(#g20_100_23)"/>
<circle cx="190.3" cy="320.7" r="13.80" fill="url(#g60_225_20)"/>
<circle cx="178.5" cy="321.2" r="13.80" fill="url(#g20_100_23)"/>
<circle cx="180.0" cy="330.0" r="13.80" fill="url(#g40_200_21)"/>
<circle cx="170.0" cy="313.2" r="13.80" fill="url(#g20_100_23)"/>
<circle cx="202.0" cy="252.0" r="13.80" fill="url(#g20_100_23)"/>
<circle cx="212.9" cy="253.0" r="13.80" fill="url(#g80_250_19)"/>
<circle cx="248.0" cy="253.2" r="13.80" fill="url(#g45_200_21)"/>
<circle cx="244.3" cy="260.2" r="13.80" fill="url(#g30_150_23)"/>
<circle cx="294.6" cy="262.8" r="13.80" fill="url(#g60_225_20)"/>
<circle cx="298.9" cy="270.3" r="13.80" fill="url(#g60_225_20)"/>
<circle cx="219.6" cy="271.4" r="13.80" fill="url(#g30_150_23)"/>
<circle cx="276.9" cy="272.5" r="13.80" fill="url(#g35_175_22)"/>
<circle cx="260.3" cy="276.8" r="13.80" fill="url(#g20_100_23)"/>
<circle cx="219.6" cy="290.1" r="13.80" fill="url(#g60_225_20)"/>
<circle cx="257.1" cy="284.8" r="13.80" fill="url(#g20_100_23)"/>
<circle cx="275.3" cy="292.8" r="13.80" fill="url(#g25_125_23)"/>
<circle cx="295.7" cy="294.4" r="13.80" fill="url(#g40_200_21)"/>
<circle cx="213.2" cy="302.5" r="13.80" fill="url(#g45_200_21)"/>
<circle cx="226.1" cy="300.3" r="13.80" fill="url(#g20_100_23)"/>
<circle cx="243.7" cy="307.8" r="13.80" fill="url(#g45_200_21)"/>
<circle cx="259.3" cy="302.5" r="13.80" fill="url(#g30_125_23)"/>
<circle cx="267.8" cy="308.9" r="13.80" fill="url(#g30_150_23)"/>
<circle cx="254.4" cy="315.8" r="13.80" fill="url(#g35_175_22)"/>
<circle cx="307.4" cy="311.0" r="13.80" fill="url(#g110_250_19)"/>
<circle cx="282.3" cy="321.2" r="13.80" fill="url(#g25_125_23)"/>
<circle cx="266.0" cy="329.0" r="13.80" fill="url(#g30_150_23)"/>
<circle cx="219.6" cy="308.4" r="13.80" fill="url(#g20_100_23)"/>
<circle cx="234.6" cy="314.2" r="13.80" fill="url(#g20_100_23)"/>
<circle cx="290.3" cy="285.3" r="13.80" fill="url(#g20_100_23)"/>
<circle cx="357.1" cy="254.3" r="13.80" fill="url(#g60_225_20)"/>
<circle cx="399.4" cy="269.8" r="13.80" fill="url(#g200_300_18)"/>
<circle cx="344.8" cy="278.4" r="13.80" fill="url(#g170_275_18)"/>
<circle cx="340.5" cy="270.9" r="13.80" fill="url(#g30_150_23)"/>
<circle cx="333.0" cy="276.8" r="13.80" fill="url(#g30_125_23)"/>
<circle cx="313.2" cy="268.7" r="13.80" fill="url(#g20_100_23)"/>
<circle cx="375.3" cy="269.8" r="13.80" fill="url(#g30_150_23)"/>
<circle cx="380.7" cy="260.7" r="13.80" fill="url(#g20_100_23)"/>
<circle cx="366.7" cy="261.8" r="13.80" fill="url(#g20_100_23)"/>
<circle cx="392.4" cy="252.1" r="13.80" fill="url(#g20_100_23)"/>
<circle cx="314.8" cy="291.8" r="13.80" fill="url(#g25_125_23)"/>
<circle cx="341.0" cy="293.4" r="13.80" fill="url(#g35_175_22)"/>
<circle cx="331.4" cy="299.3" r="13.80" fill="url(#g80_250_19)"/>
<circle cx="349.0" cy="302.5" r="13.80" fill="url(#g30_150_23)"/>
<circle cx="355.0" cy="302.5" r="13.80" fill="url(#g30_150_23)"/>
<circle cx="368.9" cy="295.0" r="13.80" fill="url(#g20_100_23)"/>
<circle cx="386.6" cy="291.2" r="13.80" fill="url(#g20_100_23)"/>
<circle cx="398.3" cy="298.7" r="13.80" fill="url(#g20_100_23)"/>
<circle cx="375.8" cy="308.4" r="13.80" fill="url(#g25_125_23)"/>
<circle cx="390.8" cy="308.4" r="13.80" fill="url(#g20_100_23)"/>
<circle cx="402.0" cy="314.2" r="13.80" fill="url(#g60_225_20)"/>
<circle cx="334.1" cy="319.1" r="13.80" fill="url(#g30_150_23)"/>
<circle cx="355.0" cy="327.6" r="13.80" fill="url(#g20_100_23)"/>
<circle cx="128.5" cy="342.2" r="13.80" fill="url(#g170_275_18)"/>
<circle cx="117.9" cy="347.0" r="13.80" fill="url(#g30_125_23)"/>
<circle cx="159.8" cy="337.0" r="13.80" fill="url(#g170_275_18)"/>
<circle cx="160.8" cy="350.7" r="13.80" fill="url(#g135_275_19)"/>
<circle cx="126.4" cy="352.8" r="13.80" fill="url(#g20_100_23)"/>
<circle cx="180.4" cy="356.5" r="13.80" fill="url(#g30_125_23)"/>
<circle cx="200.6" cy="342.2" r="13.80" fill="url(#g20_100_23)"/>
<circle cx="200.6" cy="357.1" r="13.80" fill="url(#g30_125_23)"/>
<circle cx="172.5" cy="363.4" r="13.80" fill="url(#g25_125_23)"/>
<circle cx="150.3" cy="366.6" r="13.80" fill="url(#g30_150_23)"/>
<circle cx="176.2" cy="341.7" r="13.80" fill="url(#g20_100_23)"/>
<circle cx="252.4" cy="335.9" r="13.80" fill="url(#g170_275_18)"/>
<circle cx="230.1" cy="344.4" r="13.80" fill="url(#g40_200_21)"/>
<circle cx="223.8" cy="333.2" r="13.80" fill="url(#g30_125_23)"/>
<circle cx="267.7" cy="336.4" r="13.80" fill="url(#g30_150_23)"/>
<circle cx="283.1" cy="342.2" r="13.80" fill="url(#g30_125_23)"/>
<circle cx="238.6" cy="327.4" r="13.80" fill="url(#g20_100_23)"/>
<circle cx="218.5" cy="359.7" r="13.80" fill="url(#g30_125_23)"/>
<circle cx="229.1" cy="359.2" r="13.80" fill="url(#g30_150_23)"/>
<circle cx="234.4" cy="357.6" r="13.80" fill="url(#g30_125_23)"/>
<circle cx="268.3" cy="358.1" r="13.80" fill="url(#g25_125_23)"/>
<circle cx="285.2" cy="362.4" r="13.80" fill="url(#g20_100_23)"/>
<circle cx="292.6" cy="355.0" r="13.80" fill="url(#g20_100_23)"/>
<circle cx="308.5" cy="355.0" r="13.80" fill="url(#g20_100_23)"/>
<circle cx="315.3" cy="333.2" r="13.80" fill="url(#g35_175_22)"/>
<circle cx="325.9" cy="337.0" r="13.80" fill="url(#g20_100_23)"/>
<circle cx="349.7" cy="346.0" r="13.80" fill="url(#g35_175_22)"/>
<circle cx="355.6" cy="350.2" r="13.80" fill="url(#g25_125_23)"/>
<circle cx="312.6" cy="354.4" r="13.80" fill="url(#g35_175_22)"/>
<circle cx="333.8" cy="356.5" r="13.80" fill="url(#g30_150_23)"/>
<circle cx="338.1" cy="359.2" r="13.80" fill="url(#g30_150_23)"/>
<circle cx="349.7" cy="355.5" r="13.80" fill="url(#g20_100_23)"/>
<circle cx="367.2" cy="367.1" r="13.80" fill="url(#g45_200_21)"/>
<circle cx="375.7" cy="369.3" r="13.80" fill="url(#g30_150_23)"/>
<circle cx="396.9" cy="339.1" r="13.80" fill="url(#g20_100_23)"/>
<circle cx="389.4" cy="350.2" r="13.80" fill="url(#g20_100_23)"/>
<circle cx="382.0" cy="353.9" r="13.80" fill="url(#g20_100_23)"/>
<circle cx="316.4" cy="369.3" r="13.80" fill="url(#g20_100_23)"/>
<circle cx="343.9" cy="369.3" r="13.80" fill="url(#g20_100_23)"/>
<circle cx="385.7" cy="332.2" r="13.80" fill="url(#g20_100_23)"/>
<circle cx="243.2" cy="132.3" r="15.00" fill="url(#g250_350_20)"/>
<circle cx="254.3" cy="231.2" r="19.50" fill="url(#g280_450_18)"/>
<circle cx="191.9" cy="280.0" r="15.00" fill="url(#g250_350_18)"/>
<circle cx="399.4" cy="269.8" r="15.00" fill="url(#g250_350_18)"/>
<circle cx="301.2" cy="246.2" r="15.60" fill="url(#g220_400_19)"/>
</g>
<circle cx="258.5" cy="230.3" r="40" fill="none" stroke="#f6cccc" stroke-width="0.9"/>
<circle cx="258.5" cy="230.3" r="40" fill="none" stroke="#5a3030" stroke-width="1.1" stroke-dasharray="1.4 3.9"/>
<line x1="258.5" y1="218" x2="258.5" y2="243" stroke="#5e3c5e" stroke-width="1"/><path d="M256.8 228.8H260.2M258.5 227.1V230.5" stroke="#d89090" stroke-width="0.8"/>
<rect x="103" y="91" width="31" height="8" fill="#fff"/>
<text x="104" y="96.4" font-size="4.6" font-weight="bold" fill="#0c0c44" textLength="28" lengthAdjust="spacingAndGlyphs" word-spacing="2">POSS2 UKSTU Red</text>
<text x="235.7" y="146" font-size="4" font-weight="bold" fill="#a02424" textLength="28.3" lengthAdjust="spacingAndGlyphs">V* V344 Nor</text>
<text x="103" y="369" font-size="5" font-weight="bold" fill="#000" textLength="9" lengthAdjust="spacingAndGlyphs">,5'</text>
<text x="244" y="370" font-size="5" font-weight="bold" fill="#10105a" textLength="30" lengthAdjust="spacingAndGlyphs">1  1.5 arcsec</text>
<text x="407.5" y="350" font-size="5" font-weight="bold" fill="#10105a">N</text>
<line x1="411.5" y1="354" x2="411.5" y2="362" stroke="#10105a" stroke-width="1"/>
<line x1="400" y1="366.5" x2="408" y2="366.5" stroke="#10105a" stroke-width="1"/>
<text x="392" y="369.5" font-size="5" font-weight="bold" fill="#10105a">E</text>
<text x="273.07" y="37.00" font-size="23.20" fill="#000" textLength="54.63" lengthAdjust="spacingAndGlyphs" stroke="#000" stroke-width="0.3">IOMC</text>
<text x="339.75" y="37.00" font-size="23.20" fill="#000" textLength="146.81" lengthAdjust="spacingAndGlyphs" stroke="#000" stroke-width="0.3">8308000036</text>
<text x="521.91" y="37.00" font-size="23.20" fill="#000" textLength="14.19" lengthAdjust="spacingAndGlyphs" stroke="#000" stroke-width="0.3">V</text>
<text x="537.24" y="42.85" font-size="25.07" fill="#000" textLength="8.71" lengthAdjust="spacingAndGlyphs" stroke="#000" stroke-width="0.9">*</text>
<text x="558.89" y="37.00" font-size="23.20" fill="#000" textLength="56.82" lengthAdjust="spacingAndGlyphs" stroke="#000" stroke-width="0.3">V344</text>
<text x="627.68" y="37.00" font-size="23.20" fill="#000" textLength="39.73" lengthAdjust="spacingAndGlyphs" stroke="#000" stroke-width="0.3">Nor</text>
<text x="194.88" y="74.57" font-size="24.01" fill="#000" textLength="15.16" lengthAdjust="spacingAndGlyphs" stroke="#000" stroke-width="0.3">O</text>
<text x="222.52" y="74.00" font-size="22.80" fill="#000" textLength="58.62" lengthAdjust="spacingAndGlyphs" stroke="#000" stroke-width="0.3">Type:</text>
<text x="292.18" y="74.00" font-size="22.80" fill="#000" textLength="23.42" lengthAdjust="spacingAndGlyphs" stroke="#000" stroke-width="0.3">Mi</text>
<text x="317.14" y="78.60" font-size="21.36" fill="#000" textLength="8.71" lengthAdjust="spacingAndGlyphs" stroke="#000" stroke-width="0.9">*</text>
<text x="350.89" y="74.00" font-size="22.80" fill="#000" textLength="37.40" lengthAdjust="spacingAndGlyphs" stroke="#000" stroke-width="0.3">Var</text>
<text x="399.67" y="74.00" font-size="22.80" fill="#000" textLength="58.46" lengthAdjust="spacingAndGlyphs" stroke="#000" stroke-width="0.3">Type:</text>
<text x="470.26" y="74.00" font-size="22.80" fill="#000" textLength="16.69" lengthAdjust="spacingAndGlyphs" stroke="#000" stroke-width="0.3">M</text>
<text x="510.87" y="74.00" font-size="22.80" fill="#000" textLength="30.12" lengthAdjust="spacingAndGlyphs" stroke="#000" stroke-width="0.3">SP</text>
<text x="552.68" y="74.00" font-size="22.80" fill="#000" textLength="58.25" lengthAdjust="spacingAndGlyphs" stroke="#000" stroke-width="0.3">Type:</text>
<text x="623.03" y="74.00" font-size="22.80" fill="#000" textLength="31.67" lengthAdjust="spacingAndGlyphs" stroke="#000" stroke-width="0.3">M3</text>
<text x="655.26" y="77.2" font-family="'DejaVu Sans', sans-serif" font-weight="200" font-size="30" textLength="15.98" lengthAdjust="spacingAndGlyphs" stroke="#000" stroke-width="0.3">/</text>
<text x="670.97" y="74.00" font-size="22.80" fill="#000" textLength="32.61" lengthAdjust="spacingAndGlyphs" stroke="#000" stroke-width="0.3">M4</text>
<text x="703.40" y="74.00" font-size="22.80" fill="#000" textLength="43.80" lengthAdjust="spacingAndGlyphs" stroke="#000" stroke-width="0.3">:e...</text>
<text x="505.72" y="102.60" font-size="20.80" fill="#000" textLength="12.36" lengthAdjust="spacingAndGlyphs" stroke="#000" stroke-width="0.3">V</text>
<text x="516.61" y="107.60" font-size="11.50" font-weight="bold" fill="#000" textLength="27.67" lengthAdjust="spacingAndGlyphs">med</text>
<text x="554.45" y="102.10" font-size="20.80" fill="#000" textLength="14.90" lengthAdjust="spacingAndGlyphs" stroke="#000" stroke-width="0.3">=</text>
<text x="581.23" y="102.60" font-size="20.80" fill="#000" textLength="54.71" lengthAdjust="spacingAndGlyphs" stroke="#000" stroke-width="0.3">11.84</text>
<text x="647.65" y="102.60" font-size="20.80" fill="#000" textLength="42.46" lengthAdjust="spacingAndGlyphs" stroke="#000" stroke-width="0.3">mag</text>
<text x="699.91" y="102.60" font-size="20.80" fill="#000" textLength="15.27" lengthAdjust="spacingAndGlyphs" stroke="#000" stroke-width="0.3">&lt;</text>
<text x="715.74" y="102.60" font-size="20.80" fill="#000" textLength="27.74" lengthAdjust="spacingAndGlyphs" stroke="#000" stroke-width="0.3">err</text>
<text x="744.32" y="95.90" font-size="36.23" fill="#000" textLength="11.74" lengthAdjust="spacingAndGlyphs">_</text>
<text x="754.42" y="102.60" font-size="20.80" fill="#000" textLength="12.46" lengthAdjust="spacingAndGlyphs" stroke="#000" stroke-width="0.3">V</text>
<text x="766.89" y="102.60" font-size="20.80" fill="#000" textLength="14.30" lengthAdjust="spacingAndGlyphs" stroke="#000" stroke-width="0.3">&gt;</text>
<text x="792.63" y="102.10" font-size="20.80" fill="#000" textLength="15.15" lengthAdjust="spacingAndGlyphs" stroke="#000" stroke-width="0.3">=</text>
<text x="818.01" y="102.60" font-size="20.80" fill="#000" textLength="44.45" lengthAdjust="spacingAndGlyphs" stroke="#000" stroke-width="0.3">0.05</text>
<text x="872.01" y="102.60" font-size="20.80" fill="#000" textLength="43.64" lengthAdjust="spacingAndGlyphs" stroke="#000" stroke-width="0.3">mag</text>
<rect x="537" y="111" width="369" height="1" fill="#000"/>
<rect x="537" y="111" width="1" height="252" fill="#000"/>
<rect x="905" y="111" width="1" height="252" fill="#000"/>
<rect x="537" y="361" width="369" height="2" fill="#000"/>
<rect x="537" y="356.4" width="1.5" height="4.6" fill="#000"/>
<rect x="537" y="112" width="1.5" height="4.6" fill="#000"/>
<rect x="551" y="358.7" width="1.5" height="2.3" fill="#000"/>
<rect x="551" y="112" width="1.5" height="2.3" fill="#000"/>
<rect x="566" y="358.7" width="1.5" height="2.3" fill="#000"/>
<rect x="566" y="112" width="1.5" height="2.3" fill="#000"/>
<rect x="581" y="358.7" width="1.5" height="2.3" fill="#000"/>
<rect x="581" y="112" width="1.5" height="2.3" fill="#000"/>
<rect x="595" y="358.7" width="1.5" height="2.3" fill="#000"/>
<rect x="595" y="112" width="1.5" height="2.3" fill="#000"/>
<rect x="610" y="356.4" width="1.5" height="4.6" fill="#000"/>
<rect x="610" y="112" width="1.5" height="4.6" fill="#000"/>
<rect x="625" y="358.7" width="1.5" height="2.3" fill="#000"/>
<rect x="625" y="112" width="1.5" height="2.3" fill="#000"/>
<rect x="640" y="358.7" width="1.5" height="2.3" fill="#000"/>
<rect x="640" y="112" width="1.5" height="2.3" fill="#000"/>
<rect x="654" y="358.7" width="1.5" height="2.3" fill="#000"/>
<rect x="654" y="112" width="1.5" height="2.3" fill="#000"/>
<rect x="669" y="358.7" width="1.5" height="2.3" fill="#000"/>
<rect x="669" y="112" width="1.5" height="2.3" fill="#000"/>
<rect x="684" y="356.4" width="1.5" height="4.6" fill="#000"/>
<rect x="684" y="112" width="1.5" height="4.6" fill="#000"/>
<rect x="698" y="358.7" width="1.5" height="2.3" fill="#000"/>
<rect x="698" y="112" width="1.5" height="2.3" fill="#000"/>
<rect x="713" y="358.7" width="1.5" height="2.3" fill="#000"/>
<rect x="713" y="112" width="1.5" height="2.3" fill="#000"/>
<rect x="728" y="358.7" width="1.5" height="2.3" fill="#000"/>
<rect x="728" y="112" width="1.5" height="2.3" fill="#000"/>
<rect x="743" y="358.7" width="1.5" height="2.3" fill="#000"/>
<rect x="743" y="112" width="1.5" height="2.3" fill="#000"/>
<rect x="757" y="356.4" width="1.5" height="4.6" fill="#000"/>
<rect x="757" y="112" width="1.5" height="4.6" fill="#000"/>
<rect x="772" y="358.7" width="1.5" height="2.3" fill="#000"/>
<rect x="772" y="112" width="1.5" height="2.3" fill="#000"/>
<rect x="787" y="358.7" width="1.5" height="2.3" fill="#000"/>
<rect x="787" y="112" width="1.5" height="2.3" fill="#000"/>
<rect x="802" y="358.7" width="1.5" height="2.3" fill="#000"/>
<rect x="802" y="112" width="1.5" height="2.3" fill="#000"/>
<rect x="816" y="358.7" width="1.5" height="2.3" fill="#000"/>
<rect x="816" y="112" width="1.5" height="2.3" fill="#000"/>
<rect x="831" y="356.4" width="1.5" height="4.6" fill="#000"/>
<rect x="831" y="112" width="1.5" height="4.6" fill="#000"/>
<rect x="846" y="358.7" width="1.5" height="2.3" fill="#000"/>
<rect x="846" y="112" width="1.5" height="2.3" fill="#000"/>
<rect x="860" y="358.7" width="1.5" height="2.3" fill="#000"/>
<rect x="860" y="112" width="1.5" height="2.3" fill="#000"/>
<rect x="875" y="358.7" width="1.5" height="2.3" fill="#000"/>
<rect x="875" y="112" width="1.5" height="2.3" fill="#000"/>
<rect x="890" y="358.7" width="1.5" height="2.3" fill="#000"/>
<rect x="890" y="112" width="1.5" height="2.3" fill="#000"/>
<rect x="904.5" y="356.4" width="1.5" height="4.6" fill="#000"/>
<rect x="904.5" y="112" width="1.5" height="4.6" fill="#000"/>
<rect x="538" y="117" width="7.4" height="1.1" fill="#000"/>
<rect x="897.6" y="117" width="7.4" height="1.1" fill="#000"/>
<rect x="538" y="132" width="3.7" height="1.1" fill="#000"/>
<rect x="901.3" y="132" width="3.7" height="1.1" fill="#000"/>
<rect x="538" y="147" width="3.7" height="1.1" fill="#000"/>
<rect x="901.3" y="147" width="3.7" height="1.1" fill="#000"/>
<rect x="538" y="162" width="3.7" height="1.1" fill="#000"/>
<rect x="901.3" y="162" width="3.7" height="1.1" fill="#000"/>
<rect x="538" y="176" width="7.4" height="1.1" fill="#000"/>
<rect x="897.6" y="176" width="7.4" height="1.1" fill="#000"/>
<rect x="538" y="191" width="3.7" height="1.1" fill="#000"/>
<rect x="901.3" y="191" width="3.7" height="1.1" fill="#000"/>
<rect x="538" y="206" width="3.7" height="1.1" fill="#000"/>
<rect x="901.3" y="206" width="3.7" height="1.1" fill="#000"/>
<rect x="538" y="221" width="3.7" height="1.1" fill="#000"/>
<rect x="901.3" y="221" width="3.7" height="1.1" fill="#000"/>
<rect x="538" y="236" width="7.4" height="1.1" fill="#000"/>
<rect x="897.6" y="236" width="7.4" height="1.1" fill="#000"/>
<rect x="538" y="251" width="3.7" height="1.1" fill="#000"/>
<rect x="901.3" y="251" width="3.7" height="1.1" fill="#000"/>
<rect x="538" y="266" width="3.7" height="1.1" fill="#000"/>
<rect x="901.3" y="266" width="3.7" height="1.1" fill="#000"/>
<rect x="538" y="281" width="3.7" height="1.1" fill="#000"/>
<rect x="901.3" y="281" width="3.7" height="1.1" fill="#000"/>
<rect x="538" y="296" width="7.4" height="1.1" fill="#000"/>
<rect x="897.6" y="296" width="7.4" height="1.1" fill="#000"/>
<rect x="538" y="311" width="3.7" height="1.1" fill="#000"/>
<rect x="901.3" y="311" width="3.7" height="1.1" fill="#000"/>
<rect x="538" y="325" width="3.7" height="1.1" fill="#000"/>
<rect x="901.3" y="325" width="3.7" height="1.1" fill="#000"/>
<rect x="538" y="340" width="3.7" height="1.1" fill="#000"/>
<rect x="901.3" y="340" width="3.7" height="1.1" fill="#000"/>
<rect x="538" y="355" width="7.4" height="1.1" fill="#000"/>
<rect x="897.6" y="355" width="7.4" height="1.1" fill="#000"/>
<text x="497.35" y="123.90" font-size="16.60" fill="#000" textLength="34.42" lengthAdjust="spacingAndGlyphs" stroke="#000" stroke-width="0.8">11.6</text>
<text x="497.26" y="183.50" font-size="16.60" fill="#000" textLength="34.52" lengthAdjust="spacingAndGlyphs" stroke="#000" stroke-width="0.8">11.8</text>
<text x="497.45" y="243.10" font-size="16.60" fill="#000" textLength="34.24" lengthAdjust="spacingAndGlyphs" stroke="#000" stroke-width="0.8">12.0</text>
<text x="497.42" y="302.70" font-size="16.60" fill="#000" textLength="34.47" lengthAdjust="spacingAndGlyphs" stroke="#000" stroke-width="0.8">12.2</text>
<text x="496.80" y="362.30" font-size="16.60" fill="#000" textLength="34.72" lengthAdjust="spacingAndGlyphs" stroke="#000" stroke-width="0.8">12.4</text>
<text x="516.74" y="385.60" font-size="16.60" fill="#000" textLength="39.86" lengthAdjust="spacingAndGlyphs" stroke="#000" stroke-width="0.8">1500</text>
<text x="590.81" y="385.60" font-size="16.60" fill="#000" textLength="39.38" lengthAdjust="spacingAndGlyphs" stroke="#000" stroke-width="0.8">2000</text>
<text x="664.41" y="385.60" font-size="16.60" fill="#000" textLength="39.38" lengthAdjust="spacingAndGlyphs" stroke="#000" stroke-width="0.8">2500</text>
<text x="738.23" y="385.60" font-size="16.60" fill="#000" textLength="39.16" lengthAdjust="spacingAndGlyphs" stroke="#000" stroke-width="0.8">3000</text>
<text x="811.83" y="385.60" font-size="16.60" fill="#000" textLength="39.16" lengthAdjust="spacingAndGlyphs" stroke="#000" stroke-width="0.8">3500</text>
<text x="885.70" y="385.60" font-size="16.60" fill="#000" textLength="38.88" lengthAdjust="spacingAndGlyphs" stroke="#000" stroke-width="0.8">4000</text>
<text x="656.34" y="404.90" font-size="16.00" fill="#000" textLength="70.15" lengthAdjust="spacingAndGlyphs" stroke="#000" stroke-width="0.6">Barytime</text>
<text x="734.57" y="404.90" font-size="16.00" fill="#000" textLength="50.45" lengthAdjust="spacingAndGlyphs" stroke="#000" stroke-width="0.6">(days)</text>
<g transform="translate(483,270.3) rotate(-90)"><text x="-0.07" y="0.00" font-size="16.00" fill="#000" textLength="10.44" lengthAdjust="spacingAndGlyphs" stroke="#000" stroke-width="0.6">V</text><text x="17.24" y="0.00" font-size="16.00" fill="#000" textLength="49.03" lengthAdjust="spacingAndGlyphs" stroke="#000" stroke-width="0.6">(mag)</text></g>
<rect x="593" y="130" width="2" height="5" fill="#3cc0d0"/>
<rect x="593" y="139" width="3.5" height="64" fill="#2cdc2c"/>
<rect x="593.5" y="203" width="3" height="10" fill="#4cc890"/>
<rect x="592" y="205" width="2" height="8" fill="#3cc0d0"/>
<rect x="591" y="184" width="1.5" height="1.5" fill="#1e10a0"/>
<rect x="592" y="215" width="2.6" height="40" fill="#1e10a0"/>
<rect x="592" y="261" width="2.4" height="1.6" fill="#1e10a0"/>
<rect x="592" y="269" width="2.4" height="2" fill="#1e10a0"/>
<rect x="592" y="274.5" width="2.6" height="29" fill="#1e10a0"/>
<rect x="592" y="322" width="2.4" height="4" fill="#1e10a0"/>
<rect x="598.5" y="316.5" width="1.6" height="1.6" fill="#dcc040"/>
<rect x="598.5" y="334" width="1.6" height="1.6" fill="#dcc040"/>
<rect x="598.5" y="341" width="1.6" height="1.6" fill="#dcc040"/>
<rect x="835.8" y="167" width="2" height="2" fill="#c41414"/>
<rect x="835.8" y="175.6" width="2" height="2" fill="#c41414"/>
<rect x="835.8" y="179.4" width="2" height="2" fill="#c41414"/>
<rect x="835.8" y="185.5" width="2" height="31" fill="#c41414"/>
<rect x="835.8" y="217.5" width="2" height="14" fill="#c41414"/>
<rect x="835.8" y="233.6" width="2" height="2" fill="#c41414"/>
<rect x="834.8" y="189" width="1.2" height="2" fill="#c41414"/>
<rect x="837.8" y="194" width="1.2" height="2" fill="#c41414"/>
<rect x="834.8" y="200" width="1.2" height="2" fill="#c41414"/>
<rect x="837.8" y="207" width="1.2" height="2" fill="#c41414"/>
<rect x="834.8" y="213" width="1.2" height="2" fill="#c41414"/>
<rect x="837.8" y="221" width="1.2" height="2" fill="#c41414"/>
<rect x="834.8" y="226" width="1.2" height="2" fill="#c41414"/>
<rect x="83" y="440" width="380" height="2" fill="#000"/>
<rect x="83" y="694" width="380" height="2" fill="#000"/>
<rect x="83" y="440" width="2" height="256" fill="#000"/>
<rect x="461" y="440" width="2" height="256" fill="#000"/>
<rect x="88" y="696" width="2" height="6" fill="#000"/>
<rect x="88" y="442" width="2" height="3.5" fill="#000"/>
<rect x="109" y="696" width="2" height="2" fill="#000"/>
<rect x="130" y="696" width="2" height="2" fill="#000"/>
<rect x="152" y="696" width="2" height="2" fill="#000"/>
<rect x="173" y="696" width="2" height="6" fill="#000"/>
<rect x="173" y="442" width="2" height="3.5" fill="#000"/>
<rect x="194" y="696" width="2" height="2" fill="#000"/>
<rect x="215" y="696" width="2" height="2" fill="#000"/>
<rect x="237" y="696" width="2" height="2" fill="#000"/>
<rect x="258" y="696" width="2" height="6" fill="#000"/>
<rect x="258" y="442" width="2" height="3.5" fill="#000"/>
<rect x="279" y="696" width="2" height="2" fill="#000"/>
<rect x="300" y="696" width="2" height="2" fill="#000"/>
<rect x="322" y="696" width="2" height="2" fill="#000"/>
<rect x="343" y="696" width="2" height="6" fill="#000"/>
<rect x="343" y="442" width="2" height="3.5" fill="#000"/>
<rect x="364" y="696" width="2" height="2" fill="#000"/>
<rect x="385" y="696" width="2" height="2" fill="#000"/>
<rect x="407" y="696" width="2" height="2" fill="#000"/>
<rect x="428" y="696" width="2" height="6" fill="#000"/>
<rect x="428" y="442" width="2" height="3.5" fill="#000"/>
<rect x="449" y="696" width="2" height="2" fill="#000"/>
<rect x="85" y="651" width="6.5" height="2" fill="#000"/>
<rect x="454.5" y="651" width="6.5" height="2" fill="#000"/>
<rect x="85" y="608" width="6.5" height="2" fill="#000"/>
<rect x="454.5" y="608" width="6.5" height="2" fill="#000"/>
<rect x="85" y="565" width="6.5" height="2" fill="#000"/>
<rect x="454.5" y="565" width="6.5" height="2" fill="#000"/>
<rect x="85" y="522" width="6.5" height="2" fill="#000"/>
<rect x="454.5" y="522" width="6.5" height="2" fill="#000"/>
<rect x="85" y="479" width="6.5" height="2" fill="#000"/>
<rect x="454.5" y="479" width="6.5" height="2" fill="#000"/>
<rect x="109.90" y="672.30" width="26.21" height="22.60" fill="none" stroke="#c40a0a" stroke-width="2"/>
<rect x="136.11" y="552.70" width="26.21" height="142.20" fill="none" stroke="#c40a0a" stroke-width="2"/>
<rect x="162.32" y="453.00" width="26.21" height="241.90" fill="none" stroke="#c40a0a" stroke-width="2"/>
<rect x="188.53" y="497.40" width="26.21" height="197.50" fill="none" stroke="#c40a0a" stroke-width="2"/>
<rect x="214.74" y="630.60" width="26.21" height="64.30" fill="none" stroke="#c40a0a" stroke-width="2"/>
<rect x="240.95" y="610.40" width="26.21" height="84.50" fill="none" stroke="#c40a0a" stroke-width="2"/>
<rect x="267.16" y="642.50" width="26.21" height="52.40" fill="none" stroke="#c40a0a" stroke-width="2"/>
<rect x="293.37" y="683.40" width="26.21" height="11.50" fill="none" stroke="#c40a0a" stroke-width="2"/>
<rect x="319.58" y="649.60" width="26.21" height="45.30" fill="none" stroke="#c40a0a" stroke-width="2"/>
<rect x="345.79" y="685.70" width="26.21" height="9.20" fill="none" stroke="#c40a0a" stroke-width="2"/>
<rect x="372.00" y="687.90" width="26.21" height="7.00" fill="none" stroke="#c40a0a" stroke-width="2"/>
<rect x="398.21" y="690.60" width="26.21" height="4.30" fill="none" stroke="#c40a0a" stroke-width="2"/>
<text x="71.24" y="724.80" font-size="16.60" fill="#000" textLength="34.74" lengthAdjust="spacingAndGlyphs" stroke="#000" stroke-width="0.8">11.6</text>
<text x="156.24" y="724.80" font-size="16.60" fill="#000" textLength="34.73" lengthAdjust="spacingAndGlyphs" stroke="#000" stroke-width="0.8">11.8</text>
<text x="241.24" y="724.80" font-size="16.60" fill="#000" textLength="34.65" lengthAdjust="spacingAndGlyphs" stroke="#000" stroke-width="0.8">12.0</text>
<text x="326.24" y="724.80" font-size="16.60" fill="#000" textLength="34.87" lengthAdjust="spacingAndGlyphs" stroke="#000" stroke-width="0.8">12.2</text>
<text x="411.25" y="724.80" font-size="16.60" fill="#000" textLength="34.47" lengthAdjust="spacingAndGlyphs" stroke="#000" stroke-width="0.8">12.4</text>
<text x="68.28" y="695.40" font-size="16.60" fill="#000" textLength="10.24" lengthAdjust="spacingAndGlyphs" stroke="#000" stroke-width="0.8">0</text>
<text x="57.55" y="659.05" font-size="16.60" fill="#000" textLength="20.99" lengthAdjust="spacingAndGlyphs" stroke="#000" stroke-width="0.8">20</text>
<text x="58.08" y="616.00" font-size="16.60" fill="#000" textLength="20.44" lengthAdjust="spacingAndGlyphs" stroke="#000" stroke-width="0.8">40</text>
<text x="57.54" y="572.95" font-size="16.60" fill="#000" textLength="21.00" lengthAdjust="spacingAndGlyphs" stroke="#000" stroke-width="0.8">60</text>
<text x="57.69" y="529.90" font-size="16.60" fill="#000" textLength="20.85" lengthAdjust="spacingAndGlyphs" stroke="#000" stroke-width="0.8">80</text>
<text x="48.53" y="486.85" font-size="16.60" fill="#000" textLength="29.97" lengthAdjust="spacingAndGlyphs" stroke="#000" stroke-width="0.8">100</text>
<text x="239.23" y="744.40" font-size="16.00" fill="#000" textLength="9.93" lengthAdjust="spacingAndGlyphs" stroke="#000" stroke-width="0.6">V</text>
<text x="255.94" y="744.40" font-size="16.00" fill="#000" textLength="48.92" lengthAdjust="spacingAndGlyphs" stroke="#000" stroke-width="0.6">(mag)</text>
<g transform="translate(33.9,572.3) rotate(-90)"><text x="-1.10" y="0.00" font-size="15.50" fill="#000" textLength="9.70" lengthAdjust="spacingAndGlyphs" stroke="#000" stroke-width="1.1">N</text></g>
</svg>
</body></html>
